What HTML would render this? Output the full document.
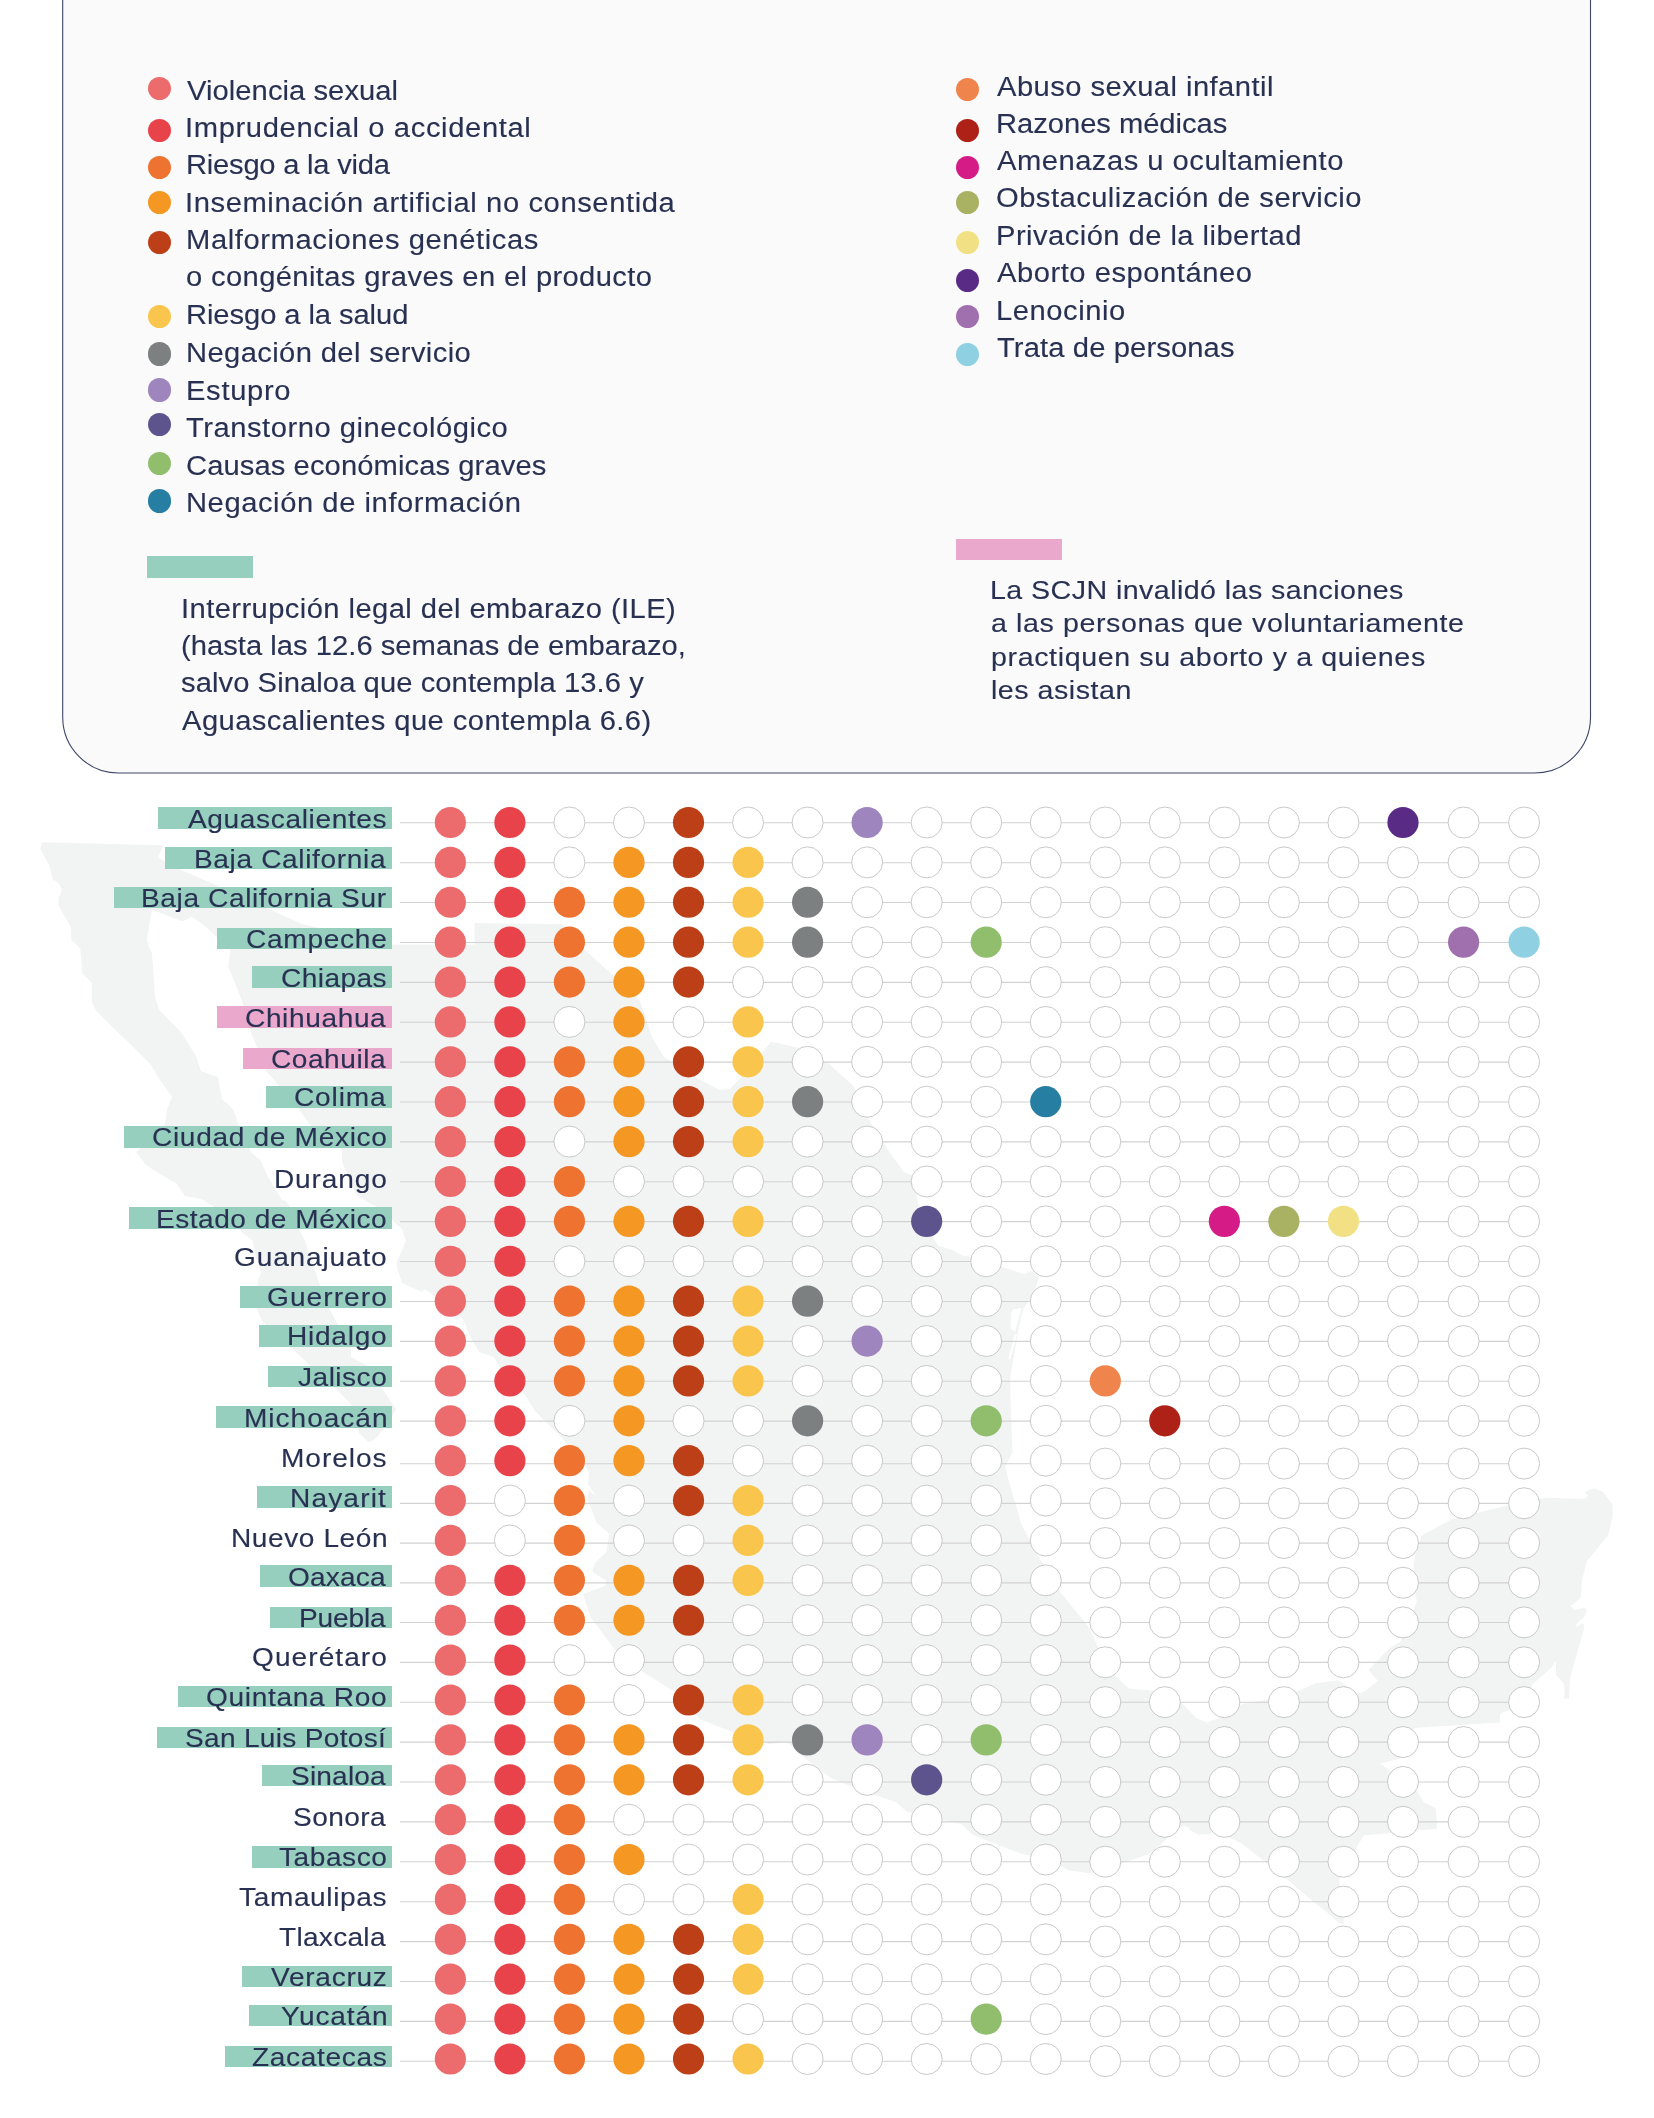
<!DOCTYPE html>
<html lang="es"><head><meta charset="utf-8"><title>Causales de aborto por estado</title>
<style>
html,body{margin:0;padding:0;background:#fff}
body{width:1654px;height:2118px;position:relative;overflow:hidden;font-family:"Liberation Sans",sans-serif;color:#283152}
.t{position:absolute;white-space:nowrap;line-height:30px;margin:0;padding:0;transform-origin:0 0;transform:scaleX(1.08);will-change:transform;-webkit-text-stroke:0.12px #283152}
.d{position:absolute;width:23.2px;height:23.2px;border-radius:50%}
.bar{position:absolute}
.hl{position:absolute;height:21.5px}
svg{position:absolute;left:0;top:0}
</style></head><body>
<svg width="1654" height="2118" viewBox="0 0 1654 2118">
<path d="M62.7,-5 V717.05 A56,56 0 0 0 118.7,773.05 H1534.5 A56,56 0 0 0 1590.5,717.05 V-5 Z" fill="#fafafb" stroke="#3f4769" stroke-width="1.1"/>
<polygon points="41.8,842.3 163.6,845.2 157.8,857.6 179.6,869.2 216,885 302,924 393,944.4 474.5,944.4 474.5,923 562,924 583,948 608,971 639,999 644,1012 652,1037 664,1057 697,1078 720,1090 730,1089 743,1075 771,1042 780,1043.5 799,1048 828,1063 853.5,1086 871,1123 888,1150 904,1172 911.6,1175 917.4,1198 918.3,1204 935,1241 938.6,1245.7 954,1250.5 962,1255.4 973.5,1257.3 1002.5,1267 1024,1274 1031.5,1271 1039,1276.7 1033.4,1295 1023.5,1308.6 1018,1332 1013.5,1359 1010.2,1378 1010.5,1400 1012.6,1452 1005.3,1467 1009,1481.6 1021.7,1525 1040.6,1560 1061,1593 1087.8,1625.8 1098,1646.3 1116.6,1677 1129,1688.5 1151.6,1690.5 1180.3,1701.8 1196.8,1718.3 1207,1722.4 1223.5,1716.2 1242,1703.9 1266.7,1699.8 1301.6,1689.5 1316,1683.3 1338.6,1680.2 1342.7,1683.3 1357.8,1693.7 1365,1691.3 1377.8,1680.7 1368.4,1670 1388.5,1649 1400.3,1641.8 1416.8,1601.6 1413.2,1578 1414.4,1559 1421.5,1535.5 1452.2,1519 1509,1505 1546.6,1497.8 1584.4,1499 1588,1495.4 1584.4,1492 1593.8,1488.3 1603.3,1492 1612.7,1505 1612.7,1516.7 1608,1535.5 1586.8,1561.5 1582,1580.4 1581,1597 1573.8,1604 1570.2,1606 1575,1610 1584.4,1607.5 1586.8,1610 1584.4,1617 1577.3,1623 1575,1627.6 1583.2,1623 1584.4,1627.6 1570.2,1677.2 1569,1698.4 1564.3,1698.4 1564.3,1684.3 1556,1674.8 1556,1660.7 1551.3,1667.7 1532.5,1684.3 1530.1,1690.2 1509,1710.2 1501.8,1712.6 1500,1715 1500,1722.5 1414.4,1728 1400.3,1758.6 1380.2,1763.4 1390.8,1771.6 1416.8,1790.5 1424,1802.3 1435.7,1808.2 1437,1828.7 1363.7,1835.4 1355.4,1849.5 1339,1880.2 1340,1885 1343.7,1918.7 1343.7,1924.8 1337.6,1921.8 1328.3,1913.5 1307.8,1897.1 1287.2,1879.6 1266.7,1863.2 1242,1843.7 1225.5,1835.4 1213.2,1830.3 1211.2,1834.4 1198.8,1834.4 1189.6,1830.3 1188.5,1827.2 1184.4,1826.2 1176.2,1829.3 1164,1841.6 1149.5,1854 1122.8,1863.2 1092,1873.5 1069.3,1870.4 1040.6,1857 1022.2,1854.1 1004.7,1847.6 972.1,1834.5 961.2,1823.7 939.4,1819.3 906.8,1811.7 896,1801.9 885,1798.6 852.4,1786.7 830.6,1778 802.3,1756.2 787,1742 769.7,1744.2 732.7,1732.2 700,1719.2 674,1691.5 643,1672 616,1651 591,1618 583,1594 604.5,1586 606.4,1581 592,1571.5 595,1563 606.4,1552 609.3,1534 596.7,1523 587,1498 589,1491 596,1496 588,1484.5 589,1473 587,1469 564,1440 535,1411 523,1392 512,1385 502,1371 494,1357 479,1352 469,1334 463,1319 438,1299 425,1289 422,1292 402,1283 396,1264 406,1241 402,1229 379,1208 371,1204 357,1196 348,1177 342,1161 342,1150 311,1126 303,1115 293,1101 274,1080 266,1071 251,1032 242,1001 234.7,982.4 228.2,966.4 230.4,950.4 217.3,937.4 202.8,924.3 192,917 182.5,921.4 152,909.8 147.7,934.5 147,938.8 148.4,946 152,953.3 155,997 159.3,1010 165,1016 181,1032 196,1056 201,1071 218,1077 222,1099 233,1109 239,1126 251,1152 261,1161 268,1177 282,1200 286,1201 291,1208 301,1233 305,1241 320,1285 324,1299 335,1319 351,1348 351,1357 366,1365 374,1377 386,1394 396,1409 386,1427 374,1440 368,1442 359,1433 351,1404 335,1388 316,1371 301,1357 281,1338 262,1321 256,1307 258,1280 261,1273 255,1254 253,1241 243,1233 216,1208 201,1199 185,1196 177,1184 158,1173 146,1165 136,1152 165,1124 167,1109 172,1097 160,1080 151,1065 127,1041 98,1013 95.4,1010 91.8,1001.2 91.8,983 82.4,973.6 80.2,948.3 71.5,940.3 70.8,927.2 58.5,905.4 58.5,898.2 62,889.5 59.2,883.7 52.6,879.3 49,864.8 40.3,848.9" fill="#f2f4f3"/>
<polygon points="1013.1,1309.6 1021.6,1307.8 1015,1331.8 1010.4,1327.9 1011.2,1312.4" fill="#fff"/>
<polygon points="1015,1333.7 1008.3,1358.9 1010.2,1359.8 1017,1334.7" fill="#fff"/>
<line x1="400" y1="822.80" x2="1524.10" y2="822.80" stroke="#d2d2d2" stroke-width="1.1"/>
<line x1="400" y1="862.69" x2="1524.10" y2="862.69" stroke="#d2d2d2" stroke-width="1.1"/>
<line x1="400" y1="902.57" x2="1524.10" y2="902.57" stroke="#d2d2d2" stroke-width="1.1"/>
<line x1="400" y1="942.46" x2="1524.10" y2="942.46" stroke="#d2d2d2" stroke-width="1.1"/>
<line x1="400" y1="982.35" x2="1524.10" y2="982.35" stroke="#d2d2d2" stroke-width="1.1"/>
<line x1="400" y1="1022.23" x2="1524.10" y2="1022.23" stroke="#d2d2d2" stroke-width="1.1"/>
<line x1="400" y1="1062.12" x2="1524.10" y2="1062.12" stroke="#d2d2d2" stroke-width="1.1"/>
<line x1="400" y1="1102.01" x2="1524.10" y2="1102.01" stroke="#d2d2d2" stroke-width="1.1"/>
<line x1="400" y1="1141.90" x2="1524.10" y2="1141.90" stroke="#d2d2d2" stroke-width="1.1"/>
<line x1="400" y1="1181.78" x2="1524.10" y2="1181.78" stroke="#d2d2d2" stroke-width="1.1"/>
<line x1="400" y1="1221.67" x2="1524.10" y2="1221.67" stroke="#d2d2d2" stroke-width="1.1"/>
<line x1="400" y1="1261.56" x2="1524.10" y2="1261.56" stroke="#d2d2d2" stroke-width="1.1"/>
<line x1="400" y1="1301.44" x2="1524.10" y2="1301.44" stroke="#d2d2d2" stroke-width="1.1"/>
<line x1="400" y1="1341.33" x2="1524.10" y2="1341.33" stroke="#d2d2d2" stroke-width="1.1"/>
<line x1="400" y1="1381.22" x2="1524.10" y2="1381.22" stroke="#d2d2d2" stroke-width="1.1"/>
<line x1="400" y1="1421.11" x2="1524.10" y2="1421.11" stroke="#d2d2d2" stroke-width="1.1"/>
<line x1="400" y1="1463.69" x2="1524.10" y2="1463.69" stroke="#d2d2d2" stroke-width="1.1"/>
<line x1="400" y1="1503.38" x2="1524.10" y2="1503.38" stroke="#d2d2d2" stroke-width="1.1"/>
<line x1="400" y1="1543.12" x2="1524.10" y2="1543.12" stroke="#d2d2d2" stroke-width="1.1"/>
<line x1="400" y1="1582.85" x2="1524.10" y2="1582.85" stroke="#d2d2d2" stroke-width="1.1"/>
<line x1="400" y1="1622.49" x2="1524.10" y2="1622.49" stroke="#d2d2d2" stroke-width="1.1"/>
<line x1="400" y1="1662.38" x2="1524.10" y2="1662.38" stroke="#d2d2d2" stroke-width="1.1"/>
<line x1="400" y1="1702.26" x2="1524.10" y2="1702.26" stroke="#d2d2d2" stroke-width="1.1"/>
<line x1="400" y1="1742.15" x2="1524.10" y2="1742.15" stroke="#d2d2d2" stroke-width="1.1"/>
<line x1="400" y1="1782.04" x2="1524.10" y2="1782.04" stroke="#d2d2d2" stroke-width="1.1"/>
<line x1="400" y1="1821.92" x2="1524.10" y2="1821.92" stroke="#d2d2d2" stroke-width="1.1"/>
<line x1="400" y1="1861.81" x2="1524.10" y2="1861.81" stroke="#d2d2d2" stroke-width="1.1"/>
<line x1="400" y1="1901.70" x2="1524.10" y2="1901.70" stroke="#d2d2d2" stroke-width="1.1"/>
<line x1="400" y1="1941.59" x2="1524.10" y2="1941.59" stroke="#d2d2d2" stroke-width="1.1"/>
<line x1="400" y1="1981.47" x2="1524.10" y2="1981.47" stroke="#d2d2d2" stroke-width="1.1"/>
<line x1="400" y1="2021.36" x2="1524.10" y2="2021.36" stroke="#d2d2d2" stroke-width="1.1"/>
<line x1="400" y1="2061.25" x2="1524.10" y2="2061.25" stroke="#d2d2d2" stroke-width="1.1"/>
<circle cx="450.35" cy="822.50" r="15.6" fill="#ec6b6c"/>
<circle cx="509.89" cy="822.50" r="15.6" fill="#e8434a"/>
<circle cx="569.43" cy="822.50" r="15.5" fill="#fff" stroke="#bbbbbb" stroke-width="0.8"/>
<circle cx="628.97" cy="822.50" r="15.5" fill="#fff" stroke="#bbbbbb" stroke-width="0.8"/>
<circle cx="688.51" cy="822.50" r="15.6" fill="#bc3f18"/>
<circle cx="748.05" cy="822.50" r="15.5" fill="#fff" stroke="#bbbbbb" stroke-width="0.8"/>
<circle cx="807.59" cy="822.50" r="15.5" fill="#fff" stroke="#bbbbbb" stroke-width="0.8"/>
<circle cx="867.13" cy="822.50" r="15.6" fill="#9e85be"/>
<circle cx="926.67" cy="822.50" r="15.5" fill="#fff" stroke="#bbbbbb" stroke-width="0.8"/>
<circle cx="986.21" cy="822.50" r="15.5" fill="#fff" stroke="#bbbbbb" stroke-width="0.8"/>
<circle cx="1045.75" cy="822.50" r="15.5" fill="#fff" stroke="#bbbbbb" stroke-width="0.8"/>
<circle cx="1105.29" cy="822.50" r="15.5" fill="#fff" stroke="#bbbbbb" stroke-width="0.8"/>
<circle cx="1164.83" cy="822.50" r="15.5" fill="#fff" stroke="#bbbbbb" stroke-width="0.8"/>
<circle cx="1224.37" cy="822.50" r="15.5" fill="#fff" stroke="#bbbbbb" stroke-width="0.8"/>
<circle cx="1283.91" cy="822.50" r="15.5" fill="#fff" stroke="#bbbbbb" stroke-width="0.8"/>
<circle cx="1343.45" cy="822.50" r="15.5" fill="#fff" stroke="#bbbbbb" stroke-width="0.8"/>
<circle cx="1402.99" cy="822.50" r="15.6" fill="#5a2b85"/>
<circle cx="1463.60" cy="822.50" r="15.5" fill="#fff" stroke="#bbbbbb" stroke-width="0.8"/>
<circle cx="1524.10" cy="822.50" r="15.5" fill="#fff" stroke="#bbbbbb" stroke-width="0.8"/>
<circle cx="450.35" cy="862.39" r="15.6" fill="#ec6b6c"/>
<circle cx="509.89" cy="862.39" r="15.6" fill="#e8434a"/>
<circle cx="569.43" cy="862.39" r="15.5" fill="#fff" stroke="#bbbbbb" stroke-width="0.8"/>
<circle cx="628.97" cy="862.39" r="15.6" fill="#f49723"/>
<circle cx="688.51" cy="862.39" r="15.6" fill="#bc3f18"/>
<circle cx="748.05" cy="862.39" r="15.6" fill="#f9c54d"/>
<circle cx="807.59" cy="862.39" r="15.5" fill="#fff" stroke="#bbbbbb" stroke-width="0.8"/>
<circle cx="867.13" cy="862.39" r="15.5" fill="#fff" stroke="#bbbbbb" stroke-width="0.8"/>
<circle cx="926.67" cy="862.39" r="15.5" fill="#fff" stroke="#bbbbbb" stroke-width="0.8"/>
<circle cx="986.21" cy="862.39" r="15.5" fill="#fff" stroke="#bbbbbb" stroke-width="0.8"/>
<circle cx="1045.75" cy="862.39" r="15.5" fill="#fff" stroke="#bbbbbb" stroke-width="0.8"/>
<circle cx="1105.29" cy="862.39" r="15.5" fill="#fff" stroke="#bbbbbb" stroke-width="0.8"/>
<circle cx="1164.83" cy="862.39" r="15.5" fill="#fff" stroke="#bbbbbb" stroke-width="0.8"/>
<circle cx="1224.37" cy="862.39" r="15.5" fill="#fff" stroke="#bbbbbb" stroke-width="0.8"/>
<circle cx="1283.91" cy="862.39" r="15.5" fill="#fff" stroke="#bbbbbb" stroke-width="0.8"/>
<circle cx="1343.45" cy="862.39" r="15.5" fill="#fff" stroke="#bbbbbb" stroke-width="0.8"/>
<circle cx="1402.99" cy="862.39" r="15.5" fill="#fff" stroke="#bbbbbb" stroke-width="0.8"/>
<circle cx="1463.60" cy="862.39" r="15.5" fill="#fff" stroke="#bbbbbb" stroke-width="0.8"/>
<circle cx="1524.10" cy="862.39" r="15.5" fill="#fff" stroke="#bbbbbb" stroke-width="0.8"/>
<circle cx="450.35" cy="902.27" r="15.6" fill="#ec6b6c"/>
<circle cx="509.89" cy="902.27" r="15.6" fill="#e8434a"/>
<circle cx="569.43" cy="902.27" r="15.6" fill="#ee7230"/>
<circle cx="628.97" cy="902.27" r="15.6" fill="#f49723"/>
<circle cx="688.51" cy="902.27" r="15.6" fill="#bc3f18"/>
<circle cx="748.05" cy="902.27" r="15.6" fill="#f9c54d"/>
<circle cx="807.59" cy="902.27" r="15.6" fill="#7c8081"/>
<circle cx="867.13" cy="902.27" r="15.5" fill="#fff" stroke="#bbbbbb" stroke-width="0.8"/>
<circle cx="926.67" cy="902.27" r="15.5" fill="#fff" stroke="#bbbbbb" stroke-width="0.8"/>
<circle cx="986.21" cy="902.27" r="15.5" fill="#fff" stroke="#bbbbbb" stroke-width="0.8"/>
<circle cx="1045.75" cy="902.27" r="15.5" fill="#fff" stroke="#bbbbbb" stroke-width="0.8"/>
<circle cx="1105.29" cy="902.27" r="15.5" fill="#fff" stroke="#bbbbbb" stroke-width="0.8"/>
<circle cx="1164.83" cy="902.27" r="15.5" fill="#fff" stroke="#bbbbbb" stroke-width="0.8"/>
<circle cx="1224.37" cy="902.27" r="15.5" fill="#fff" stroke="#bbbbbb" stroke-width="0.8"/>
<circle cx="1283.91" cy="902.27" r="15.5" fill="#fff" stroke="#bbbbbb" stroke-width="0.8"/>
<circle cx="1343.45" cy="902.27" r="15.5" fill="#fff" stroke="#bbbbbb" stroke-width="0.8"/>
<circle cx="1402.99" cy="902.27" r="15.5" fill="#fff" stroke="#bbbbbb" stroke-width="0.8"/>
<circle cx="1463.60" cy="902.27" r="15.5" fill="#fff" stroke="#bbbbbb" stroke-width="0.8"/>
<circle cx="1524.10" cy="902.27" r="15.5" fill="#fff" stroke="#bbbbbb" stroke-width="0.8"/>
<circle cx="450.35" cy="942.16" r="15.6" fill="#ec6b6c"/>
<circle cx="509.89" cy="942.16" r="15.6" fill="#e8434a"/>
<circle cx="569.43" cy="942.16" r="15.6" fill="#ee7230"/>
<circle cx="628.97" cy="942.16" r="15.6" fill="#f49723"/>
<circle cx="688.51" cy="942.16" r="15.6" fill="#bc3f18"/>
<circle cx="748.05" cy="942.16" r="15.6" fill="#f9c54d"/>
<circle cx="807.59" cy="942.16" r="15.6" fill="#7c8081"/>
<circle cx="867.13" cy="942.16" r="15.5" fill="#fff" stroke="#bbbbbb" stroke-width="0.8"/>
<circle cx="926.67" cy="942.16" r="15.5" fill="#fff" stroke="#bbbbbb" stroke-width="0.8"/>
<circle cx="986.21" cy="942.16" r="15.6" fill="#90be6d"/>
<circle cx="1045.75" cy="942.16" r="15.5" fill="#fff" stroke="#bbbbbb" stroke-width="0.8"/>
<circle cx="1105.29" cy="942.16" r="15.5" fill="#fff" stroke="#bbbbbb" stroke-width="0.8"/>
<circle cx="1164.83" cy="942.16" r="15.5" fill="#fff" stroke="#bbbbbb" stroke-width="0.8"/>
<circle cx="1224.37" cy="942.16" r="15.5" fill="#fff" stroke="#bbbbbb" stroke-width="0.8"/>
<circle cx="1283.91" cy="942.16" r="15.5" fill="#fff" stroke="#bbbbbb" stroke-width="0.8"/>
<circle cx="1343.45" cy="942.16" r="15.5" fill="#fff" stroke="#bbbbbb" stroke-width="0.8"/>
<circle cx="1402.99" cy="942.16" r="15.5" fill="#fff" stroke="#bbbbbb" stroke-width="0.8"/>
<circle cx="1463.60" cy="942.16" r="15.6" fill="#a06fae"/>
<circle cx="1524.10" cy="942.16" r="15.6" fill="#8fd1e2"/>
<circle cx="450.35" cy="982.05" r="15.6" fill="#ec6b6c"/>
<circle cx="509.89" cy="982.05" r="15.6" fill="#e8434a"/>
<circle cx="569.43" cy="982.05" r="15.6" fill="#ee7230"/>
<circle cx="628.97" cy="982.05" r="15.6" fill="#f49723"/>
<circle cx="688.51" cy="982.05" r="15.6" fill="#bc3f18"/>
<circle cx="748.05" cy="982.05" r="15.5" fill="#fff" stroke="#bbbbbb" stroke-width="0.8"/>
<circle cx="807.59" cy="982.05" r="15.5" fill="#fff" stroke="#bbbbbb" stroke-width="0.8"/>
<circle cx="867.13" cy="982.05" r="15.5" fill="#fff" stroke="#bbbbbb" stroke-width="0.8"/>
<circle cx="926.67" cy="982.05" r="15.5" fill="#fff" stroke="#bbbbbb" stroke-width="0.8"/>
<circle cx="986.21" cy="982.05" r="15.5" fill="#fff" stroke="#bbbbbb" stroke-width="0.8"/>
<circle cx="1045.75" cy="982.05" r="15.5" fill="#fff" stroke="#bbbbbb" stroke-width="0.8"/>
<circle cx="1105.29" cy="982.05" r="15.5" fill="#fff" stroke="#bbbbbb" stroke-width="0.8"/>
<circle cx="1164.83" cy="982.05" r="15.5" fill="#fff" stroke="#bbbbbb" stroke-width="0.8"/>
<circle cx="1224.37" cy="982.05" r="15.5" fill="#fff" stroke="#bbbbbb" stroke-width="0.8"/>
<circle cx="1283.91" cy="982.05" r="15.5" fill="#fff" stroke="#bbbbbb" stroke-width="0.8"/>
<circle cx="1343.45" cy="982.05" r="15.5" fill="#fff" stroke="#bbbbbb" stroke-width="0.8"/>
<circle cx="1402.99" cy="982.05" r="15.5" fill="#fff" stroke="#bbbbbb" stroke-width="0.8"/>
<circle cx="1463.60" cy="982.05" r="15.5" fill="#fff" stroke="#bbbbbb" stroke-width="0.8"/>
<circle cx="1524.10" cy="982.05" r="15.5" fill="#fff" stroke="#bbbbbb" stroke-width="0.8"/>
<circle cx="450.35" cy="1021.93" r="15.6" fill="#ec6b6c"/>
<circle cx="509.89" cy="1021.93" r="15.6" fill="#e8434a"/>
<circle cx="569.43" cy="1021.93" r="15.5" fill="#fff" stroke="#bbbbbb" stroke-width="0.8"/>
<circle cx="628.97" cy="1021.93" r="15.6" fill="#f49723"/>
<circle cx="688.51" cy="1021.93" r="15.5" fill="#fff" stroke="#bbbbbb" stroke-width="0.8"/>
<circle cx="748.05" cy="1021.93" r="15.6" fill="#f9c54d"/>
<circle cx="807.59" cy="1021.93" r="15.5" fill="#fff" stroke="#bbbbbb" stroke-width="0.8"/>
<circle cx="867.13" cy="1021.93" r="15.5" fill="#fff" stroke="#bbbbbb" stroke-width="0.8"/>
<circle cx="926.67" cy="1021.93" r="15.5" fill="#fff" stroke="#bbbbbb" stroke-width="0.8"/>
<circle cx="986.21" cy="1021.93" r="15.5" fill="#fff" stroke="#bbbbbb" stroke-width="0.8"/>
<circle cx="1045.75" cy="1021.93" r="15.5" fill="#fff" stroke="#bbbbbb" stroke-width="0.8"/>
<circle cx="1105.29" cy="1021.93" r="15.5" fill="#fff" stroke="#bbbbbb" stroke-width="0.8"/>
<circle cx="1164.83" cy="1021.93" r="15.5" fill="#fff" stroke="#bbbbbb" stroke-width="0.8"/>
<circle cx="1224.37" cy="1021.93" r="15.5" fill="#fff" stroke="#bbbbbb" stroke-width="0.8"/>
<circle cx="1283.91" cy="1021.93" r="15.5" fill="#fff" stroke="#bbbbbb" stroke-width="0.8"/>
<circle cx="1343.45" cy="1021.93" r="15.5" fill="#fff" stroke="#bbbbbb" stroke-width="0.8"/>
<circle cx="1402.99" cy="1021.93" r="15.5" fill="#fff" stroke="#bbbbbb" stroke-width="0.8"/>
<circle cx="1463.60" cy="1021.93" r="15.5" fill="#fff" stroke="#bbbbbb" stroke-width="0.8"/>
<circle cx="1524.10" cy="1021.93" r="15.5" fill="#fff" stroke="#bbbbbb" stroke-width="0.8"/>
<circle cx="450.35" cy="1061.82" r="15.6" fill="#ec6b6c"/>
<circle cx="509.89" cy="1061.82" r="15.6" fill="#e8434a"/>
<circle cx="569.43" cy="1061.82" r="15.6" fill="#ee7230"/>
<circle cx="628.97" cy="1061.82" r="15.6" fill="#f49723"/>
<circle cx="688.51" cy="1061.82" r="15.6" fill="#bc3f18"/>
<circle cx="748.05" cy="1061.82" r="15.6" fill="#f9c54d"/>
<circle cx="807.59" cy="1061.82" r="15.5" fill="#fff" stroke="#bbbbbb" stroke-width="0.8"/>
<circle cx="867.13" cy="1061.82" r="15.5" fill="#fff" stroke="#bbbbbb" stroke-width="0.8"/>
<circle cx="926.67" cy="1061.82" r="15.5" fill="#fff" stroke="#bbbbbb" stroke-width="0.8"/>
<circle cx="986.21" cy="1061.82" r="15.5" fill="#fff" stroke="#bbbbbb" stroke-width="0.8"/>
<circle cx="1045.75" cy="1061.82" r="15.5" fill="#fff" stroke="#bbbbbb" stroke-width="0.8"/>
<circle cx="1105.29" cy="1061.82" r="15.5" fill="#fff" stroke="#bbbbbb" stroke-width="0.8"/>
<circle cx="1164.83" cy="1061.82" r="15.5" fill="#fff" stroke="#bbbbbb" stroke-width="0.8"/>
<circle cx="1224.37" cy="1061.82" r="15.5" fill="#fff" stroke="#bbbbbb" stroke-width="0.8"/>
<circle cx="1283.91" cy="1061.82" r="15.5" fill="#fff" stroke="#bbbbbb" stroke-width="0.8"/>
<circle cx="1343.45" cy="1061.82" r="15.5" fill="#fff" stroke="#bbbbbb" stroke-width="0.8"/>
<circle cx="1402.99" cy="1061.82" r="15.5" fill="#fff" stroke="#bbbbbb" stroke-width="0.8"/>
<circle cx="1463.60" cy="1061.82" r="15.5" fill="#fff" stroke="#bbbbbb" stroke-width="0.8"/>
<circle cx="1524.10" cy="1061.82" r="15.5" fill="#fff" stroke="#bbbbbb" stroke-width="0.8"/>
<circle cx="450.35" cy="1101.71" r="15.6" fill="#ec6b6c"/>
<circle cx="509.89" cy="1101.71" r="15.6" fill="#e8434a"/>
<circle cx="569.43" cy="1101.71" r="15.6" fill="#ee7230"/>
<circle cx="628.97" cy="1101.71" r="15.6" fill="#f49723"/>
<circle cx="688.51" cy="1101.71" r="15.6" fill="#bc3f18"/>
<circle cx="748.05" cy="1101.71" r="15.6" fill="#f9c54d"/>
<circle cx="807.59" cy="1101.71" r="15.6" fill="#7c8081"/>
<circle cx="867.13" cy="1101.71" r="15.5" fill="#fff" stroke="#bbbbbb" stroke-width="0.8"/>
<circle cx="926.67" cy="1101.71" r="15.5" fill="#fff" stroke="#bbbbbb" stroke-width="0.8"/>
<circle cx="986.21" cy="1101.71" r="15.5" fill="#fff" stroke="#bbbbbb" stroke-width="0.8"/>
<circle cx="1045.75" cy="1101.71" r="15.6" fill="#267fa3"/>
<circle cx="1105.29" cy="1101.71" r="15.5" fill="#fff" stroke="#bbbbbb" stroke-width="0.8"/>
<circle cx="1164.83" cy="1101.71" r="15.5" fill="#fff" stroke="#bbbbbb" stroke-width="0.8"/>
<circle cx="1224.37" cy="1101.71" r="15.5" fill="#fff" stroke="#bbbbbb" stroke-width="0.8"/>
<circle cx="1283.91" cy="1101.71" r="15.5" fill="#fff" stroke="#bbbbbb" stroke-width="0.8"/>
<circle cx="1343.45" cy="1101.71" r="15.5" fill="#fff" stroke="#bbbbbb" stroke-width="0.8"/>
<circle cx="1402.99" cy="1101.71" r="15.5" fill="#fff" stroke="#bbbbbb" stroke-width="0.8"/>
<circle cx="1463.60" cy="1101.71" r="15.5" fill="#fff" stroke="#bbbbbb" stroke-width="0.8"/>
<circle cx="1524.10" cy="1101.71" r="15.5" fill="#fff" stroke="#bbbbbb" stroke-width="0.8"/>
<circle cx="450.35" cy="1141.60" r="15.6" fill="#ec6b6c"/>
<circle cx="509.89" cy="1141.60" r="15.6" fill="#e8434a"/>
<circle cx="569.43" cy="1141.60" r="15.5" fill="#fff" stroke="#bbbbbb" stroke-width="0.8"/>
<circle cx="628.97" cy="1141.60" r="15.6" fill="#f49723"/>
<circle cx="688.51" cy="1141.60" r="15.6" fill="#bc3f18"/>
<circle cx="748.05" cy="1141.60" r="15.6" fill="#f9c54d"/>
<circle cx="807.59" cy="1141.60" r="15.5" fill="#fff" stroke="#bbbbbb" stroke-width="0.8"/>
<circle cx="867.13" cy="1141.60" r="15.5" fill="#fff" stroke="#bbbbbb" stroke-width="0.8"/>
<circle cx="926.67" cy="1141.60" r="15.5" fill="#fff" stroke="#bbbbbb" stroke-width="0.8"/>
<circle cx="986.21" cy="1141.60" r="15.5" fill="#fff" stroke="#bbbbbb" stroke-width="0.8"/>
<circle cx="1045.75" cy="1141.60" r="15.5" fill="#fff" stroke="#bbbbbb" stroke-width="0.8"/>
<circle cx="1105.29" cy="1141.60" r="15.5" fill="#fff" stroke="#bbbbbb" stroke-width="0.8"/>
<circle cx="1164.83" cy="1141.60" r="15.5" fill="#fff" stroke="#bbbbbb" stroke-width="0.8"/>
<circle cx="1224.37" cy="1141.60" r="15.5" fill="#fff" stroke="#bbbbbb" stroke-width="0.8"/>
<circle cx="1283.91" cy="1141.60" r="15.5" fill="#fff" stroke="#bbbbbb" stroke-width="0.8"/>
<circle cx="1343.45" cy="1141.60" r="15.5" fill="#fff" stroke="#bbbbbb" stroke-width="0.8"/>
<circle cx="1402.99" cy="1141.60" r="15.5" fill="#fff" stroke="#bbbbbb" stroke-width="0.8"/>
<circle cx="1463.60" cy="1141.60" r="15.5" fill="#fff" stroke="#bbbbbb" stroke-width="0.8"/>
<circle cx="1524.10" cy="1141.60" r="15.5" fill="#fff" stroke="#bbbbbb" stroke-width="0.8"/>
<circle cx="450.35" cy="1181.48" r="15.6" fill="#ec6b6c"/>
<circle cx="509.89" cy="1181.48" r="15.6" fill="#e8434a"/>
<circle cx="569.43" cy="1181.48" r="15.6" fill="#ee7230"/>
<circle cx="628.97" cy="1181.48" r="15.5" fill="#fff" stroke="#bbbbbb" stroke-width="0.8"/>
<circle cx="688.51" cy="1181.48" r="15.5" fill="#fff" stroke="#bbbbbb" stroke-width="0.8"/>
<circle cx="748.05" cy="1181.48" r="15.5" fill="#fff" stroke="#bbbbbb" stroke-width="0.8"/>
<circle cx="807.59" cy="1181.48" r="15.5" fill="#fff" stroke="#bbbbbb" stroke-width="0.8"/>
<circle cx="867.13" cy="1181.48" r="15.5" fill="#fff" stroke="#bbbbbb" stroke-width="0.8"/>
<circle cx="926.67" cy="1181.48" r="15.5" fill="#fff" stroke="#bbbbbb" stroke-width="0.8"/>
<circle cx="986.21" cy="1181.48" r="15.5" fill="#fff" stroke="#bbbbbb" stroke-width="0.8"/>
<circle cx="1045.75" cy="1181.48" r="15.5" fill="#fff" stroke="#bbbbbb" stroke-width="0.8"/>
<circle cx="1105.29" cy="1181.48" r="15.5" fill="#fff" stroke="#bbbbbb" stroke-width="0.8"/>
<circle cx="1164.83" cy="1181.48" r="15.5" fill="#fff" stroke="#bbbbbb" stroke-width="0.8"/>
<circle cx="1224.37" cy="1181.48" r="15.5" fill="#fff" stroke="#bbbbbb" stroke-width="0.8"/>
<circle cx="1283.91" cy="1181.48" r="15.5" fill="#fff" stroke="#bbbbbb" stroke-width="0.8"/>
<circle cx="1343.45" cy="1181.48" r="15.5" fill="#fff" stroke="#bbbbbb" stroke-width="0.8"/>
<circle cx="1402.99" cy="1181.48" r="15.5" fill="#fff" stroke="#bbbbbb" stroke-width="0.8"/>
<circle cx="1463.60" cy="1181.48" r="15.5" fill="#fff" stroke="#bbbbbb" stroke-width="0.8"/>
<circle cx="1524.10" cy="1181.48" r="15.5" fill="#fff" stroke="#bbbbbb" stroke-width="0.8"/>
<circle cx="450.35" cy="1221.37" r="15.6" fill="#ec6b6c"/>
<circle cx="509.89" cy="1221.37" r="15.6" fill="#e8434a"/>
<circle cx="569.43" cy="1221.37" r="15.6" fill="#ee7230"/>
<circle cx="628.97" cy="1221.37" r="15.6" fill="#f49723"/>
<circle cx="688.51" cy="1221.37" r="15.6" fill="#bc3f18"/>
<circle cx="748.05" cy="1221.37" r="15.6" fill="#f9c54d"/>
<circle cx="807.59" cy="1221.37" r="15.5" fill="#fff" stroke="#bbbbbb" stroke-width="0.8"/>
<circle cx="867.13" cy="1221.37" r="15.5" fill="#fff" stroke="#bbbbbb" stroke-width="0.8"/>
<circle cx="926.67" cy="1221.37" r="15.6" fill="#5d548e"/>
<circle cx="986.21" cy="1221.37" r="15.5" fill="#fff" stroke="#bbbbbb" stroke-width="0.8"/>
<circle cx="1045.75" cy="1221.37" r="15.5" fill="#fff" stroke="#bbbbbb" stroke-width="0.8"/>
<circle cx="1105.29" cy="1221.37" r="15.5" fill="#fff" stroke="#bbbbbb" stroke-width="0.8"/>
<circle cx="1164.83" cy="1221.37" r="15.5" fill="#fff" stroke="#bbbbbb" stroke-width="0.8"/>
<circle cx="1224.37" cy="1221.37" r="15.6" fill="#d51b85"/>
<circle cx="1283.91" cy="1221.37" r="15.6" fill="#a9b163"/>
<circle cx="1343.45" cy="1221.37" r="15.6" fill="#f2e184"/>
<circle cx="1402.99" cy="1221.37" r="15.5" fill="#fff" stroke="#bbbbbb" stroke-width="0.8"/>
<circle cx="1463.60" cy="1221.37" r="15.5" fill="#fff" stroke="#bbbbbb" stroke-width="0.8"/>
<circle cx="1524.10" cy="1221.37" r="15.5" fill="#fff" stroke="#bbbbbb" stroke-width="0.8"/>
<circle cx="450.35" cy="1261.26" r="15.6" fill="#ec6b6c"/>
<circle cx="509.89" cy="1261.26" r="15.6" fill="#e8434a"/>
<circle cx="569.43" cy="1261.26" r="15.5" fill="#fff" stroke="#bbbbbb" stroke-width="0.8"/>
<circle cx="628.97" cy="1261.26" r="15.5" fill="#fff" stroke="#bbbbbb" stroke-width="0.8"/>
<circle cx="688.51" cy="1261.26" r="15.5" fill="#fff" stroke="#bbbbbb" stroke-width="0.8"/>
<circle cx="748.05" cy="1261.26" r="15.5" fill="#fff" stroke="#bbbbbb" stroke-width="0.8"/>
<circle cx="807.59" cy="1261.26" r="15.5" fill="#fff" stroke="#bbbbbb" stroke-width="0.8"/>
<circle cx="867.13" cy="1261.26" r="15.5" fill="#fff" stroke="#bbbbbb" stroke-width="0.8"/>
<circle cx="926.67" cy="1261.26" r="15.5" fill="#fff" stroke="#bbbbbb" stroke-width="0.8"/>
<circle cx="986.21" cy="1261.26" r="15.5" fill="#fff" stroke="#bbbbbb" stroke-width="0.8"/>
<circle cx="1045.75" cy="1261.26" r="15.5" fill="#fff" stroke="#bbbbbb" stroke-width="0.8"/>
<circle cx="1105.29" cy="1261.26" r="15.5" fill="#fff" stroke="#bbbbbb" stroke-width="0.8"/>
<circle cx="1164.83" cy="1261.26" r="15.5" fill="#fff" stroke="#bbbbbb" stroke-width="0.8"/>
<circle cx="1224.37" cy="1261.26" r="15.5" fill="#fff" stroke="#bbbbbb" stroke-width="0.8"/>
<circle cx="1283.91" cy="1261.26" r="15.5" fill="#fff" stroke="#bbbbbb" stroke-width="0.8"/>
<circle cx="1343.45" cy="1261.26" r="15.5" fill="#fff" stroke="#bbbbbb" stroke-width="0.8"/>
<circle cx="1402.99" cy="1261.26" r="15.5" fill="#fff" stroke="#bbbbbb" stroke-width="0.8"/>
<circle cx="1463.60" cy="1261.26" r="15.5" fill="#fff" stroke="#bbbbbb" stroke-width="0.8"/>
<circle cx="1524.10" cy="1261.26" r="15.5" fill="#fff" stroke="#bbbbbb" stroke-width="0.8"/>
<circle cx="450.35" cy="1301.14" r="15.6" fill="#ec6b6c"/>
<circle cx="509.89" cy="1301.14" r="15.6" fill="#e8434a"/>
<circle cx="569.43" cy="1301.14" r="15.6" fill="#ee7230"/>
<circle cx="628.97" cy="1301.14" r="15.6" fill="#f49723"/>
<circle cx="688.51" cy="1301.14" r="15.6" fill="#bc3f18"/>
<circle cx="748.05" cy="1301.14" r="15.6" fill="#f9c54d"/>
<circle cx="807.59" cy="1301.14" r="15.6" fill="#7c8081"/>
<circle cx="867.13" cy="1301.14" r="15.5" fill="#fff" stroke="#bbbbbb" stroke-width="0.8"/>
<circle cx="926.67" cy="1301.14" r="15.5" fill="#fff" stroke="#bbbbbb" stroke-width="0.8"/>
<circle cx="986.21" cy="1301.14" r="15.5" fill="#fff" stroke="#bbbbbb" stroke-width="0.8"/>
<circle cx="1045.75" cy="1301.14" r="15.5" fill="#fff" stroke="#bbbbbb" stroke-width="0.8"/>
<circle cx="1105.29" cy="1301.14" r="15.5" fill="#fff" stroke="#bbbbbb" stroke-width="0.8"/>
<circle cx="1164.83" cy="1301.14" r="15.5" fill="#fff" stroke="#bbbbbb" stroke-width="0.8"/>
<circle cx="1224.37" cy="1301.14" r="15.5" fill="#fff" stroke="#bbbbbb" stroke-width="0.8"/>
<circle cx="1283.91" cy="1301.14" r="15.5" fill="#fff" stroke="#bbbbbb" stroke-width="0.8"/>
<circle cx="1343.45" cy="1301.14" r="15.5" fill="#fff" stroke="#bbbbbb" stroke-width="0.8"/>
<circle cx="1402.99" cy="1301.14" r="15.5" fill="#fff" stroke="#bbbbbb" stroke-width="0.8"/>
<circle cx="1463.60" cy="1301.14" r="15.5" fill="#fff" stroke="#bbbbbb" stroke-width="0.8"/>
<circle cx="1524.10" cy="1301.14" r="15.5" fill="#fff" stroke="#bbbbbb" stroke-width="0.8"/>
<circle cx="450.35" cy="1341.03" r="15.6" fill="#ec6b6c"/>
<circle cx="509.89" cy="1341.03" r="15.6" fill="#e8434a"/>
<circle cx="569.43" cy="1341.03" r="15.6" fill="#ee7230"/>
<circle cx="628.97" cy="1341.03" r="15.6" fill="#f49723"/>
<circle cx="688.51" cy="1341.03" r="15.6" fill="#bc3f18"/>
<circle cx="748.05" cy="1341.03" r="15.6" fill="#f9c54d"/>
<circle cx="807.59" cy="1341.03" r="15.5" fill="#fff" stroke="#bbbbbb" stroke-width="0.8"/>
<circle cx="867.13" cy="1341.03" r="15.6" fill="#9e85be"/>
<circle cx="926.67" cy="1341.03" r="15.5" fill="#fff" stroke="#bbbbbb" stroke-width="0.8"/>
<circle cx="986.21" cy="1341.03" r="15.5" fill="#fff" stroke="#bbbbbb" stroke-width="0.8"/>
<circle cx="1045.75" cy="1341.03" r="15.5" fill="#fff" stroke="#bbbbbb" stroke-width="0.8"/>
<circle cx="1105.29" cy="1341.03" r="15.5" fill="#fff" stroke="#bbbbbb" stroke-width="0.8"/>
<circle cx="1164.83" cy="1341.03" r="15.5" fill="#fff" stroke="#bbbbbb" stroke-width="0.8"/>
<circle cx="1224.37" cy="1341.03" r="15.5" fill="#fff" stroke="#bbbbbb" stroke-width="0.8"/>
<circle cx="1283.91" cy="1341.03" r="15.5" fill="#fff" stroke="#bbbbbb" stroke-width="0.8"/>
<circle cx="1343.45" cy="1341.03" r="15.5" fill="#fff" stroke="#bbbbbb" stroke-width="0.8"/>
<circle cx="1402.99" cy="1341.03" r="15.5" fill="#fff" stroke="#bbbbbb" stroke-width="0.8"/>
<circle cx="1463.60" cy="1341.03" r="15.5" fill="#fff" stroke="#bbbbbb" stroke-width="0.8"/>
<circle cx="1524.10" cy="1341.03" r="15.5" fill="#fff" stroke="#bbbbbb" stroke-width="0.8"/>
<circle cx="450.35" cy="1380.92" r="15.6" fill="#ec6b6c"/>
<circle cx="509.89" cy="1380.92" r="15.6" fill="#e8434a"/>
<circle cx="569.43" cy="1380.92" r="15.6" fill="#ee7230"/>
<circle cx="628.97" cy="1380.92" r="15.6" fill="#f49723"/>
<circle cx="688.51" cy="1380.92" r="15.6" fill="#bc3f18"/>
<circle cx="748.05" cy="1380.92" r="15.6" fill="#f9c54d"/>
<circle cx="807.59" cy="1380.92" r="15.5" fill="#fff" stroke="#bbbbbb" stroke-width="0.8"/>
<circle cx="867.13" cy="1380.92" r="15.5" fill="#fff" stroke="#bbbbbb" stroke-width="0.8"/>
<circle cx="926.67" cy="1380.92" r="15.5" fill="#fff" stroke="#bbbbbb" stroke-width="0.8"/>
<circle cx="986.21" cy="1380.92" r="15.5" fill="#fff" stroke="#bbbbbb" stroke-width="0.8"/>
<circle cx="1045.75" cy="1380.92" r="15.5" fill="#fff" stroke="#bbbbbb" stroke-width="0.8"/>
<circle cx="1105.29" cy="1380.92" r="15.6" fill="#ef844c"/>
<circle cx="1164.83" cy="1380.92" r="15.5" fill="#fff" stroke="#bbbbbb" stroke-width="0.8"/>
<circle cx="1224.37" cy="1380.92" r="15.5" fill="#fff" stroke="#bbbbbb" stroke-width="0.8"/>
<circle cx="1283.91" cy="1380.92" r="15.5" fill="#fff" stroke="#bbbbbb" stroke-width="0.8"/>
<circle cx="1343.45" cy="1380.92" r="15.5" fill="#fff" stroke="#bbbbbb" stroke-width="0.8"/>
<circle cx="1402.99" cy="1380.92" r="15.5" fill="#fff" stroke="#bbbbbb" stroke-width="0.8"/>
<circle cx="1463.60" cy="1380.92" r="15.5" fill="#fff" stroke="#bbbbbb" stroke-width="0.8"/>
<circle cx="1524.10" cy="1380.92" r="15.5" fill="#fff" stroke="#bbbbbb" stroke-width="0.8"/>
<circle cx="450.35" cy="1420.81" r="15.6" fill="#ec6b6c"/>
<circle cx="509.89" cy="1420.81" r="15.6" fill="#e8434a"/>
<circle cx="569.43" cy="1420.81" r="15.5" fill="#fff" stroke="#bbbbbb" stroke-width="0.8"/>
<circle cx="628.97" cy="1420.81" r="15.6" fill="#f49723"/>
<circle cx="688.51" cy="1420.81" r="15.5" fill="#fff" stroke="#bbbbbb" stroke-width="0.8"/>
<circle cx="748.05" cy="1420.81" r="15.5" fill="#fff" stroke="#bbbbbb" stroke-width="0.8"/>
<circle cx="807.59" cy="1420.81" r="15.6" fill="#7c8081"/>
<circle cx="867.13" cy="1420.81" r="15.5" fill="#fff" stroke="#bbbbbb" stroke-width="0.8"/>
<circle cx="926.67" cy="1420.81" r="15.5" fill="#fff" stroke="#bbbbbb" stroke-width="0.8"/>
<circle cx="986.21" cy="1420.81" r="15.6" fill="#90be6d"/>
<circle cx="1045.75" cy="1420.81" r="15.5" fill="#fff" stroke="#bbbbbb" stroke-width="0.8"/>
<circle cx="1105.29" cy="1420.81" r="15.5" fill="#fff" stroke="#bbbbbb" stroke-width="0.8"/>
<circle cx="1164.83" cy="1420.81" r="15.6" fill="#ae2117"/>
<circle cx="1224.37" cy="1420.81" r="15.5" fill="#fff" stroke="#bbbbbb" stroke-width="0.8"/>
<circle cx="1283.91" cy="1420.81" r="15.5" fill="#fff" stroke="#bbbbbb" stroke-width="0.8"/>
<circle cx="1343.45" cy="1420.81" r="15.5" fill="#fff" stroke="#bbbbbb" stroke-width="0.8"/>
<circle cx="1402.99" cy="1420.81" r="15.5" fill="#fff" stroke="#bbbbbb" stroke-width="0.8"/>
<circle cx="1463.60" cy="1420.81" r="15.5" fill="#fff" stroke="#bbbbbb" stroke-width="0.8"/>
<circle cx="1524.10" cy="1420.81" r="15.5" fill="#fff" stroke="#bbbbbb" stroke-width="0.8"/>
<circle cx="450.35" cy="1460.69" r="15.6" fill="#ec6b6c"/>
<circle cx="509.89" cy="1460.69" r="15.6" fill="#e8434a"/>
<circle cx="569.43" cy="1460.69" r="15.6" fill="#ee7230"/>
<circle cx="628.97" cy="1460.69" r="15.6" fill="#f49723"/>
<circle cx="688.51" cy="1460.69" r="15.6" fill="#bc3f18"/>
<circle cx="748.05" cy="1460.69" r="15.5" fill="#fff" stroke="#bbbbbb" stroke-width="0.8"/>
<circle cx="807.59" cy="1460.69" r="15.5" fill="#fff" stroke="#bbbbbb" stroke-width="0.8"/>
<circle cx="867.13" cy="1460.69" r="15.5" fill="#fff" stroke="#bbbbbb" stroke-width="0.8"/>
<circle cx="926.67" cy="1460.69" r="15.5" fill="#fff" stroke="#bbbbbb" stroke-width="0.8"/>
<circle cx="986.21" cy="1460.69" r="15.5" fill="#fff" stroke="#bbbbbb" stroke-width="0.8"/>
<circle cx="1045.75" cy="1460.69" r="15.5" fill="#fff" stroke="#bbbbbb" stroke-width="0.8"/>
<circle cx="1105.29" cy="1463.59" r="15.5" fill="#fff" stroke="#bbbbbb" stroke-width="0.8"/>
<circle cx="1164.83" cy="1463.59" r="15.5" fill="#fff" stroke="#bbbbbb" stroke-width="0.8"/>
<circle cx="1224.37" cy="1463.59" r="15.5" fill="#fff" stroke="#bbbbbb" stroke-width="0.8"/>
<circle cx="1283.91" cy="1463.59" r="15.5" fill="#fff" stroke="#bbbbbb" stroke-width="0.8"/>
<circle cx="1343.45" cy="1463.59" r="15.5" fill="#fff" stroke="#bbbbbb" stroke-width="0.8"/>
<circle cx="1402.99" cy="1463.59" r="15.5" fill="#fff" stroke="#bbbbbb" stroke-width="0.8"/>
<circle cx="1463.60" cy="1463.59" r="15.5" fill="#fff" stroke="#bbbbbb" stroke-width="0.8"/>
<circle cx="1524.10" cy="1463.59" r="15.5" fill="#fff" stroke="#bbbbbb" stroke-width="0.8"/>
<circle cx="450.35" cy="1500.58" r="15.6" fill="#ec6b6c"/>
<circle cx="509.89" cy="1500.58" r="15.5" fill="#fff" stroke="#bbbbbb" stroke-width="0.8"/>
<circle cx="569.43" cy="1500.58" r="15.6" fill="#ee7230"/>
<circle cx="628.97" cy="1500.58" r="15.5" fill="#fff" stroke="#bbbbbb" stroke-width="0.8"/>
<circle cx="688.51" cy="1500.58" r="15.6" fill="#bc3f18"/>
<circle cx="748.05" cy="1500.58" r="15.6" fill="#f9c54d"/>
<circle cx="807.59" cy="1500.58" r="15.5" fill="#fff" stroke="#bbbbbb" stroke-width="0.8"/>
<circle cx="867.13" cy="1500.58" r="15.5" fill="#fff" stroke="#bbbbbb" stroke-width="0.8"/>
<circle cx="926.67" cy="1500.58" r="15.5" fill="#fff" stroke="#bbbbbb" stroke-width="0.8"/>
<circle cx="986.21" cy="1500.58" r="15.5" fill="#fff" stroke="#bbbbbb" stroke-width="0.8"/>
<circle cx="1045.75" cy="1500.58" r="15.5" fill="#fff" stroke="#bbbbbb" stroke-width="0.8"/>
<circle cx="1105.29" cy="1503.28" r="15.5" fill="#fff" stroke="#bbbbbb" stroke-width="0.8"/>
<circle cx="1164.83" cy="1503.28" r="15.5" fill="#fff" stroke="#bbbbbb" stroke-width="0.8"/>
<circle cx="1224.37" cy="1503.28" r="15.5" fill="#fff" stroke="#bbbbbb" stroke-width="0.8"/>
<circle cx="1283.91" cy="1503.28" r="15.5" fill="#fff" stroke="#bbbbbb" stroke-width="0.8"/>
<circle cx="1343.45" cy="1503.28" r="15.5" fill="#fff" stroke="#bbbbbb" stroke-width="0.8"/>
<circle cx="1402.99" cy="1503.28" r="15.5" fill="#fff" stroke="#bbbbbb" stroke-width="0.8"/>
<circle cx="1463.60" cy="1503.28" r="15.5" fill="#fff" stroke="#bbbbbb" stroke-width="0.8"/>
<circle cx="1524.10" cy="1503.28" r="15.5" fill="#fff" stroke="#bbbbbb" stroke-width="0.8"/>
<circle cx="450.35" cy="1540.47" r="15.6" fill="#ec6b6c"/>
<circle cx="509.89" cy="1540.47" r="15.5" fill="#fff" stroke="#bbbbbb" stroke-width="0.8"/>
<circle cx="569.43" cy="1540.47" r="15.6" fill="#ee7230"/>
<circle cx="628.97" cy="1540.47" r="15.5" fill="#fff" stroke="#bbbbbb" stroke-width="0.8"/>
<circle cx="688.51" cy="1540.47" r="15.5" fill="#fff" stroke="#bbbbbb" stroke-width="0.8"/>
<circle cx="748.05" cy="1540.47" r="15.6" fill="#f9c54d"/>
<circle cx="807.59" cy="1540.47" r="15.5" fill="#fff" stroke="#bbbbbb" stroke-width="0.8"/>
<circle cx="867.13" cy="1540.47" r="15.5" fill="#fff" stroke="#bbbbbb" stroke-width="0.8"/>
<circle cx="926.67" cy="1540.47" r="15.5" fill="#fff" stroke="#bbbbbb" stroke-width="0.8"/>
<circle cx="986.21" cy="1540.47" r="15.5" fill="#fff" stroke="#bbbbbb" stroke-width="0.8"/>
<circle cx="1045.75" cy="1540.47" r="15.5" fill="#fff" stroke="#bbbbbb" stroke-width="0.8"/>
<circle cx="1105.29" cy="1543.02" r="15.5" fill="#fff" stroke="#bbbbbb" stroke-width="0.8"/>
<circle cx="1164.83" cy="1543.02" r="15.5" fill="#fff" stroke="#bbbbbb" stroke-width="0.8"/>
<circle cx="1224.37" cy="1543.02" r="15.5" fill="#fff" stroke="#bbbbbb" stroke-width="0.8"/>
<circle cx="1283.91" cy="1543.02" r="15.5" fill="#fff" stroke="#bbbbbb" stroke-width="0.8"/>
<circle cx="1343.45" cy="1543.02" r="15.5" fill="#fff" stroke="#bbbbbb" stroke-width="0.8"/>
<circle cx="1402.99" cy="1543.02" r="15.5" fill="#fff" stroke="#bbbbbb" stroke-width="0.8"/>
<circle cx="1463.60" cy="1543.02" r="15.5" fill="#fff" stroke="#bbbbbb" stroke-width="0.8"/>
<circle cx="1524.10" cy="1543.02" r="15.5" fill="#fff" stroke="#bbbbbb" stroke-width="0.8"/>
<circle cx="450.35" cy="1580.35" r="15.6" fill="#ec6b6c"/>
<circle cx="509.89" cy="1580.35" r="15.6" fill="#e8434a"/>
<circle cx="569.43" cy="1580.35" r="15.6" fill="#ee7230"/>
<circle cx="628.97" cy="1580.35" r="15.6" fill="#f49723"/>
<circle cx="688.51" cy="1580.35" r="15.6" fill="#bc3f18"/>
<circle cx="748.05" cy="1580.35" r="15.6" fill="#f9c54d"/>
<circle cx="807.59" cy="1580.35" r="15.5" fill="#fff" stroke="#bbbbbb" stroke-width="0.8"/>
<circle cx="867.13" cy="1580.35" r="15.5" fill="#fff" stroke="#bbbbbb" stroke-width="0.8"/>
<circle cx="926.67" cy="1580.35" r="15.5" fill="#fff" stroke="#bbbbbb" stroke-width="0.8"/>
<circle cx="986.21" cy="1580.35" r="15.5" fill="#fff" stroke="#bbbbbb" stroke-width="0.8"/>
<circle cx="1045.75" cy="1580.35" r="15.5" fill="#fff" stroke="#bbbbbb" stroke-width="0.8"/>
<circle cx="1105.29" cy="1582.75" r="15.5" fill="#fff" stroke="#bbbbbb" stroke-width="0.8"/>
<circle cx="1164.83" cy="1582.75" r="15.5" fill="#fff" stroke="#bbbbbb" stroke-width="0.8"/>
<circle cx="1224.37" cy="1582.75" r="15.5" fill="#fff" stroke="#bbbbbb" stroke-width="0.8"/>
<circle cx="1283.91" cy="1582.75" r="15.5" fill="#fff" stroke="#bbbbbb" stroke-width="0.8"/>
<circle cx="1343.45" cy="1582.75" r="15.5" fill="#fff" stroke="#bbbbbb" stroke-width="0.8"/>
<circle cx="1402.99" cy="1582.75" r="15.5" fill="#fff" stroke="#bbbbbb" stroke-width="0.8"/>
<circle cx="1463.60" cy="1582.75" r="15.5" fill="#fff" stroke="#bbbbbb" stroke-width="0.8"/>
<circle cx="1524.10" cy="1582.75" r="15.5" fill="#fff" stroke="#bbbbbb" stroke-width="0.8"/>
<circle cx="450.35" cy="1620.24" r="15.6" fill="#ec6b6c"/>
<circle cx="509.89" cy="1620.24" r="15.6" fill="#e8434a"/>
<circle cx="569.43" cy="1620.24" r="15.6" fill="#ee7230"/>
<circle cx="628.97" cy="1620.24" r="15.6" fill="#f49723"/>
<circle cx="688.51" cy="1620.24" r="15.6" fill="#bc3f18"/>
<circle cx="748.05" cy="1620.24" r="15.5" fill="#fff" stroke="#bbbbbb" stroke-width="0.8"/>
<circle cx="807.59" cy="1620.24" r="15.5" fill="#fff" stroke="#bbbbbb" stroke-width="0.8"/>
<circle cx="867.13" cy="1620.24" r="15.5" fill="#fff" stroke="#bbbbbb" stroke-width="0.8"/>
<circle cx="926.67" cy="1620.24" r="15.5" fill="#fff" stroke="#bbbbbb" stroke-width="0.8"/>
<circle cx="986.21" cy="1620.24" r="15.5" fill="#fff" stroke="#bbbbbb" stroke-width="0.8"/>
<circle cx="1045.75" cy="1620.24" r="15.5" fill="#fff" stroke="#bbbbbb" stroke-width="0.8"/>
<circle cx="1105.29" cy="1622.39" r="15.5" fill="#fff" stroke="#bbbbbb" stroke-width="0.8"/>
<circle cx="1164.83" cy="1622.39" r="15.5" fill="#fff" stroke="#bbbbbb" stroke-width="0.8"/>
<circle cx="1224.37" cy="1622.39" r="15.5" fill="#fff" stroke="#bbbbbb" stroke-width="0.8"/>
<circle cx="1283.91" cy="1622.39" r="15.5" fill="#fff" stroke="#bbbbbb" stroke-width="0.8"/>
<circle cx="1343.45" cy="1622.39" r="15.5" fill="#fff" stroke="#bbbbbb" stroke-width="0.8"/>
<circle cx="1402.99" cy="1622.39" r="15.5" fill="#fff" stroke="#bbbbbb" stroke-width="0.8"/>
<circle cx="1463.60" cy="1622.39" r="15.5" fill="#fff" stroke="#bbbbbb" stroke-width="0.8"/>
<circle cx="1524.10" cy="1622.39" r="15.5" fill="#fff" stroke="#bbbbbb" stroke-width="0.8"/>
<circle cx="450.35" cy="1660.13" r="15.6" fill="#ec6b6c"/>
<circle cx="509.89" cy="1660.13" r="15.6" fill="#e8434a"/>
<circle cx="569.43" cy="1660.13" r="15.5" fill="#fff" stroke="#bbbbbb" stroke-width="0.8"/>
<circle cx="628.97" cy="1660.13" r="15.5" fill="#fff" stroke="#bbbbbb" stroke-width="0.8"/>
<circle cx="688.51" cy="1660.13" r="15.5" fill="#fff" stroke="#bbbbbb" stroke-width="0.8"/>
<circle cx="748.05" cy="1660.13" r="15.5" fill="#fff" stroke="#bbbbbb" stroke-width="0.8"/>
<circle cx="807.59" cy="1660.13" r="15.5" fill="#fff" stroke="#bbbbbb" stroke-width="0.8"/>
<circle cx="867.13" cy="1660.13" r="15.5" fill="#fff" stroke="#bbbbbb" stroke-width="0.8"/>
<circle cx="926.67" cy="1660.13" r="15.5" fill="#fff" stroke="#bbbbbb" stroke-width="0.8"/>
<circle cx="986.21" cy="1660.13" r="15.5" fill="#fff" stroke="#bbbbbb" stroke-width="0.8"/>
<circle cx="1045.75" cy="1660.13" r="15.5" fill="#fff" stroke="#bbbbbb" stroke-width="0.8"/>
<circle cx="1105.29" cy="1662.28" r="15.5" fill="#fff" stroke="#bbbbbb" stroke-width="0.8"/>
<circle cx="1164.83" cy="1662.28" r="15.5" fill="#fff" stroke="#bbbbbb" stroke-width="0.8"/>
<circle cx="1224.37" cy="1662.28" r="15.5" fill="#fff" stroke="#bbbbbb" stroke-width="0.8"/>
<circle cx="1283.91" cy="1662.28" r="15.5" fill="#fff" stroke="#bbbbbb" stroke-width="0.8"/>
<circle cx="1343.45" cy="1662.28" r="15.5" fill="#fff" stroke="#bbbbbb" stroke-width="0.8"/>
<circle cx="1402.99" cy="1662.28" r="15.5" fill="#fff" stroke="#bbbbbb" stroke-width="0.8"/>
<circle cx="1463.60" cy="1662.28" r="15.5" fill="#fff" stroke="#bbbbbb" stroke-width="0.8"/>
<circle cx="1524.10" cy="1662.28" r="15.5" fill="#fff" stroke="#bbbbbb" stroke-width="0.8"/>
<circle cx="450.35" cy="1700.01" r="15.6" fill="#ec6b6c"/>
<circle cx="509.89" cy="1700.01" r="15.6" fill="#e8434a"/>
<circle cx="569.43" cy="1700.01" r="15.6" fill="#ee7230"/>
<circle cx="628.97" cy="1700.01" r="15.5" fill="#fff" stroke="#bbbbbb" stroke-width="0.8"/>
<circle cx="688.51" cy="1700.01" r="15.6" fill="#bc3f18"/>
<circle cx="748.05" cy="1700.01" r="15.6" fill="#f9c54d"/>
<circle cx="807.59" cy="1700.01" r="15.5" fill="#fff" stroke="#bbbbbb" stroke-width="0.8"/>
<circle cx="867.13" cy="1700.01" r="15.5" fill="#fff" stroke="#bbbbbb" stroke-width="0.8"/>
<circle cx="926.67" cy="1700.01" r="15.5" fill="#fff" stroke="#bbbbbb" stroke-width="0.8"/>
<circle cx="986.21" cy="1700.01" r="15.5" fill="#fff" stroke="#bbbbbb" stroke-width="0.8"/>
<circle cx="1045.75" cy="1700.01" r="15.5" fill="#fff" stroke="#bbbbbb" stroke-width="0.8"/>
<circle cx="1105.29" cy="1702.16" r="15.5" fill="#fff" stroke="#bbbbbb" stroke-width="0.8"/>
<circle cx="1164.83" cy="1702.16" r="15.5" fill="#fff" stroke="#bbbbbb" stroke-width="0.8"/>
<circle cx="1224.37" cy="1702.16" r="15.5" fill="#fff" stroke="#bbbbbb" stroke-width="0.8"/>
<circle cx="1283.91" cy="1702.16" r="15.5" fill="#fff" stroke="#bbbbbb" stroke-width="0.8"/>
<circle cx="1343.45" cy="1702.16" r="15.5" fill="#fff" stroke="#bbbbbb" stroke-width="0.8"/>
<circle cx="1402.99" cy="1702.16" r="15.5" fill="#fff" stroke="#bbbbbb" stroke-width="0.8"/>
<circle cx="1463.60" cy="1702.16" r="15.5" fill="#fff" stroke="#bbbbbb" stroke-width="0.8"/>
<circle cx="1524.10" cy="1702.16" r="15.5" fill="#fff" stroke="#bbbbbb" stroke-width="0.8"/>
<circle cx="450.35" cy="1739.90" r="15.6" fill="#ec6b6c"/>
<circle cx="509.89" cy="1739.90" r="15.6" fill="#e8434a"/>
<circle cx="569.43" cy="1739.90" r="15.6" fill="#ee7230"/>
<circle cx="628.97" cy="1739.90" r="15.6" fill="#f49723"/>
<circle cx="688.51" cy="1739.90" r="15.6" fill="#bc3f18"/>
<circle cx="748.05" cy="1739.90" r="15.6" fill="#f9c54d"/>
<circle cx="807.59" cy="1739.90" r="15.6" fill="#7c8081"/>
<circle cx="867.13" cy="1739.90" r="15.6" fill="#9e85be"/>
<circle cx="926.67" cy="1739.90" r="15.5" fill="#fff" stroke="#bbbbbb" stroke-width="0.8"/>
<circle cx="986.21" cy="1739.90" r="15.6" fill="#90be6d"/>
<circle cx="1045.75" cy="1739.90" r="15.5" fill="#fff" stroke="#bbbbbb" stroke-width="0.8"/>
<circle cx="1105.29" cy="1742.05" r="15.5" fill="#fff" stroke="#bbbbbb" stroke-width="0.8"/>
<circle cx="1164.83" cy="1742.05" r="15.5" fill="#fff" stroke="#bbbbbb" stroke-width="0.8"/>
<circle cx="1224.37" cy="1742.05" r="15.5" fill="#fff" stroke="#bbbbbb" stroke-width="0.8"/>
<circle cx="1283.91" cy="1742.05" r="15.5" fill="#fff" stroke="#bbbbbb" stroke-width="0.8"/>
<circle cx="1343.45" cy="1742.05" r="15.5" fill="#fff" stroke="#bbbbbb" stroke-width="0.8"/>
<circle cx="1402.99" cy="1742.05" r="15.5" fill="#fff" stroke="#bbbbbb" stroke-width="0.8"/>
<circle cx="1463.60" cy="1742.05" r="15.5" fill="#fff" stroke="#bbbbbb" stroke-width="0.8"/>
<circle cx="1524.10" cy="1742.05" r="15.5" fill="#fff" stroke="#bbbbbb" stroke-width="0.8"/>
<circle cx="450.35" cy="1779.79" r="15.6" fill="#ec6b6c"/>
<circle cx="509.89" cy="1779.79" r="15.6" fill="#e8434a"/>
<circle cx="569.43" cy="1779.79" r="15.6" fill="#ee7230"/>
<circle cx="628.97" cy="1779.79" r="15.6" fill="#f49723"/>
<circle cx="688.51" cy="1779.79" r="15.6" fill="#bc3f18"/>
<circle cx="748.05" cy="1779.79" r="15.6" fill="#f9c54d"/>
<circle cx="807.59" cy="1779.79" r="15.5" fill="#fff" stroke="#bbbbbb" stroke-width="0.8"/>
<circle cx="867.13" cy="1779.79" r="15.5" fill="#fff" stroke="#bbbbbb" stroke-width="0.8"/>
<circle cx="926.67" cy="1779.79" r="15.6" fill="#5d548e"/>
<circle cx="986.21" cy="1779.79" r="15.5" fill="#fff" stroke="#bbbbbb" stroke-width="0.8"/>
<circle cx="1045.75" cy="1779.79" r="15.5" fill="#fff" stroke="#bbbbbb" stroke-width="0.8"/>
<circle cx="1105.29" cy="1781.94" r="15.5" fill="#fff" stroke="#bbbbbb" stroke-width="0.8"/>
<circle cx="1164.83" cy="1781.94" r="15.5" fill="#fff" stroke="#bbbbbb" stroke-width="0.8"/>
<circle cx="1224.37" cy="1781.94" r="15.5" fill="#fff" stroke="#bbbbbb" stroke-width="0.8"/>
<circle cx="1283.91" cy="1781.94" r="15.5" fill="#fff" stroke="#bbbbbb" stroke-width="0.8"/>
<circle cx="1343.45" cy="1781.94" r="15.5" fill="#fff" stroke="#bbbbbb" stroke-width="0.8"/>
<circle cx="1402.99" cy="1781.94" r="15.5" fill="#fff" stroke="#bbbbbb" stroke-width="0.8"/>
<circle cx="1463.60" cy="1781.94" r="15.5" fill="#fff" stroke="#bbbbbb" stroke-width="0.8"/>
<circle cx="1524.10" cy="1781.94" r="15.5" fill="#fff" stroke="#bbbbbb" stroke-width="0.8"/>
<circle cx="450.35" cy="1819.67" r="15.6" fill="#ec6b6c"/>
<circle cx="509.89" cy="1819.67" r="15.6" fill="#e8434a"/>
<circle cx="569.43" cy="1819.67" r="15.6" fill="#ee7230"/>
<circle cx="628.97" cy="1819.67" r="15.5" fill="#fff" stroke="#bbbbbb" stroke-width="0.8"/>
<circle cx="688.51" cy="1819.67" r="15.5" fill="#fff" stroke="#bbbbbb" stroke-width="0.8"/>
<circle cx="748.05" cy="1819.67" r="15.5" fill="#fff" stroke="#bbbbbb" stroke-width="0.8"/>
<circle cx="807.59" cy="1819.67" r="15.5" fill="#fff" stroke="#bbbbbb" stroke-width="0.8"/>
<circle cx="867.13" cy="1819.67" r="15.5" fill="#fff" stroke="#bbbbbb" stroke-width="0.8"/>
<circle cx="926.67" cy="1819.67" r="15.5" fill="#fff" stroke="#bbbbbb" stroke-width="0.8"/>
<circle cx="986.21" cy="1819.67" r="15.5" fill="#fff" stroke="#bbbbbb" stroke-width="0.8"/>
<circle cx="1045.75" cy="1819.67" r="15.5" fill="#fff" stroke="#bbbbbb" stroke-width="0.8"/>
<circle cx="1105.29" cy="1821.83" r="15.5" fill="#fff" stroke="#bbbbbb" stroke-width="0.8"/>
<circle cx="1164.83" cy="1821.83" r="15.5" fill="#fff" stroke="#bbbbbb" stroke-width="0.8"/>
<circle cx="1224.37" cy="1821.83" r="15.5" fill="#fff" stroke="#bbbbbb" stroke-width="0.8"/>
<circle cx="1283.91" cy="1821.83" r="15.5" fill="#fff" stroke="#bbbbbb" stroke-width="0.8"/>
<circle cx="1343.45" cy="1821.83" r="15.5" fill="#fff" stroke="#bbbbbb" stroke-width="0.8"/>
<circle cx="1402.99" cy="1821.83" r="15.5" fill="#fff" stroke="#bbbbbb" stroke-width="0.8"/>
<circle cx="1463.60" cy="1821.83" r="15.5" fill="#fff" stroke="#bbbbbb" stroke-width="0.8"/>
<circle cx="1524.10" cy="1821.83" r="15.5" fill="#fff" stroke="#bbbbbb" stroke-width="0.8"/>
<circle cx="450.35" cy="1859.56" r="15.6" fill="#ec6b6c"/>
<circle cx="509.89" cy="1859.56" r="15.6" fill="#e8434a"/>
<circle cx="569.43" cy="1859.56" r="15.6" fill="#ee7230"/>
<circle cx="628.97" cy="1859.56" r="15.6" fill="#f49723"/>
<circle cx="688.51" cy="1859.56" r="15.5" fill="#fff" stroke="#bbbbbb" stroke-width="0.8"/>
<circle cx="748.05" cy="1859.56" r="15.5" fill="#fff" stroke="#bbbbbb" stroke-width="0.8"/>
<circle cx="807.59" cy="1859.56" r="15.5" fill="#fff" stroke="#bbbbbb" stroke-width="0.8"/>
<circle cx="867.13" cy="1859.56" r="15.5" fill="#fff" stroke="#bbbbbb" stroke-width="0.8"/>
<circle cx="926.67" cy="1859.56" r="15.5" fill="#fff" stroke="#bbbbbb" stroke-width="0.8"/>
<circle cx="986.21" cy="1859.56" r="15.5" fill="#fff" stroke="#bbbbbb" stroke-width="0.8"/>
<circle cx="1045.75" cy="1859.56" r="15.5" fill="#fff" stroke="#bbbbbb" stroke-width="0.8"/>
<circle cx="1105.29" cy="1861.71" r="15.5" fill="#fff" stroke="#bbbbbb" stroke-width="0.8"/>
<circle cx="1164.83" cy="1861.71" r="15.5" fill="#fff" stroke="#bbbbbb" stroke-width="0.8"/>
<circle cx="1224.37" cy="1861.71" r="15.5" fill="#fff" stroke="#bbbbbb" stroke-width="0.8"/>
<circle cx="1283.91" cy="1861.71" r="15.5" fill="#fff" stroke="#bbbbbb" stroke-width="0.8"/>
<circle cx="1343.45" cy="1861.71" r="15.5" fill="#fff" stroke="#bbbbbb" stroke-width="0.8"/>
<circle cx="1402.99" cy="1861.71" r="15.5" fill="#fff" stroke="#bbbbbb" stroke-width="0.8"/>
<circle cx="1463.60" cy="1861.71" r="15.5" fill="#fff" stroke="#bbbbbb" stroke-width="0.8"/>
<circle cx="1524.10" cy="1861.71" r="15.5" fill="#fff" stroke="#bbbbbb" stroke-width="0.8"/>
<circle cx="450.35" cy="1899.45" r="15.6" fill="#ec6b6c"/>
<circle cx="509.89" cy="1899.45" r="15.6" fill="#e8434a"/>
<circle cx="569.43" cy="1899.45" r="15.6" fill="#ee7230"/>
<circle cx="628.97" cy="1899.45" r="15.5" fill="#fff" stroke="#bbbbbb" stroke-width="0.8"/>
<circle cx="688.51" cy="1899.45" r="15.5" fill="#fff" stroke="#bbbbbb" stroke-width="0.8"/>
<circle cx="748.05" cy="1899.45" r="15.6" fill="#f9c54d"/>
<circle cx="807.59" cy="1899.45" r="15.5" fill="#fff" stroke="#bbbbbb" stroke-width="0.8"/>
<circle cx="867.13" cy="1899.45" r="15.5" fill="#fff" stroke="#bbbbbb" stroke-width="0.8"/>
<circle cx="926.67" cy="1899.45" r="15.5" fill="#fff" stroke="#bbbbbb" stroke-width="0.8"/>
<circle cx="986.21" cy="1899.45" r="15.5" fill="#fff" stroke="#bbbbbb" stroke-width="0.8"/>
<circle cx="1045.75" cy="1899.45" r="15.5" fill="#fff" stroke="#bbbbbb" stroke-width="0.8"/>
<circle cx="1105.29" cy="1901.60" r="15.5" fill="#fff" stroke="#bbbbbb" stroke-width="0.8"/>
<circle cx="1164.83" cy="1901.60" r="15.5" fill="#fff" stroke="#bbbbbb" stroke-width="0.8"/>
<circle cx="1224.37" cy="1901.60" r="15.5" fill="#fff" stroke="#bbbbbb" stroke-width="0.8"/>
<circle cx="1283.91" cy="1901.60" r="15.5" fill="#fff" stroke="#bbbbbb" stroke-width="0.8"/>
<circle cx="1343.45" cy="1901.60" r="15.5" fill="#fff" stroke="#bbbbbb" stroke-width="0.8"/>
<circle cx="1402.99" cy="1901.60" r="15.5" fill="#fff" stroke="#bbbbbb" stroke-width="0.8"/>
<circle cx="1463.60" cy="1901.60" r="15.5" fill="#fff" stroke="#bbbbbb" stroke-width="0.8"/>
<circle cx="1524.10" cy="1901.60" r="15.5" fill="#fff" stroke="#bbbbbb" stroke-width="0.8"/>
<circle cx="450.35" cy="1939.34" r="15.6" fill="#ec6b6c"/>
<circle cx="509.89" cy="1939.34" r="15.6" fill="#e8434a"/>
<circle cx="569.43" cy="1939.34" r="15.6" fill="#ee7230"/>
<circle cx="628.97" cy="1939.34" r="15.6" fill="#f49723"/>
<circle cx="688.51" cy="1939.34" r="15.6" fill="#bc3f18"/>
<circle cx="748.05" cy="1939.34" r="15.6" fill="#f9c54d"/>
<circle cx="807.59" cy="1939.34" r="15.5" fill="#fff" stroke="#bbbbbb" stroke-width="0.8"/>
<circle cx="867.13" cy="1939.34" r="15.5" fill="#fff" stroke="#bbbbbb" stroke-width="0.8"/>
<circle cx="926.67" cy="1939.34" r="15.5" fill="#fff" stroke="#bbbbbb" stroke-width="0.8"/>
<circle cx="986.21" cy="1939.34" r="15.5" fill="#fff" stroke="#bbbbbb" stroke-width="0.8"/>
<circle cx="1045.75" cy="1939.34" r="15.5" fill="#fff" stroke="#bbbbbb" stroke-width="0.8"/>
<circle cx="1105.29" cy="1941.49" r="15.5" fill="#fff" stroke="#bbbbbb" stroke-width="0.8"/>
<circle cx="1164.83" cy="1941.49" r="15.5" fill="#fff" stroke="#bbbbbb" stroke-width="0.8"/>
<circle cx="1224.37" cy="1941.49" r="15.5" fill="#fff" stroke="#bbbbbb" stroke-width="0.8"/>
<circle cx="1283.91" cy="1941.49" r="15.5" fill="#fff" stroke="#bbbbbb" stroke-width="0.8"/>
<circle cx="1343.45" cy="1941.49" r="15.5" fill="#fff" stroke="#bbbbbb" stroke-width="0.8"/>
<circle cx="1402.99" cy="1941.49" r="15.5" fill="#fff" stroke="#bbbbbb" stroke-width="0.8"/>
<circle cx="1463.60" cy="1941.49" r="15.5" fill="#fff" stroke="#bbbbbb" stroke-width="0.8"/>
<circle cx="1524.10" cy="1941.49" r="15.5" fill="#fff" stroke="#bbbbbb" stroke-width="0.8"/>
<circle cx="450.35" cy="1979.22" r="15.6" fill="#ec6b6c"/>
<circle cx="509.89" cy="1979.22" r="15.6" fill="#e8434a"/>
<circle cx="569.43" cy="1979.22" r="15.6" fill="#ee7230"/>
<circle cx="628.97" cy="1979.22" r="15.6" fill="#f49723"/>
<circle cx="688.51" cy="1979.22" r="15.6" fill="#bc3f18"/>
<circle cx="748.05" cy="1979.22" r="15.6" fill="#f9c54d"/>
<circle cx="807.59" cy="1979.22" r="15.5" fill="#fff" stroke="#bbbbbb" stroke-width="0.8"/>
<circle cx="867.13" cy="1979.22" r="15.5" fill="#fff" stroke="#bbbbbb" stroke-width="0.8"/>
<circle cx="926.67" cy="1979.22" r="15.5" fill="#fff" stroke="#bbbbbb" stroke-width="0.8"/>
<circle cx="986.21" cy="1979.22" r="15.5" fill="#fff" stroke="#bbbbbb" stroke-width="0.8"/>
<circle cx="1045.75" cy="1979.22" r="15.5" fill="#fff" stroke="#bbbbbb" stroke-width="0.8"/>
<circle cx="1105.29" cy="1981.37" r="15.5" fill="#fff" stroke="#bbbbbb" stroke-width="0.8"/>
<circle cx="1164.83" cy="1981.37" r="15.5" fill="#fff" stroke="#bbbbbb" stroke-width="0.8"/>
<circle cx="1224.37" cy="1981.37" r="15.5" fill="#fff" stroke="#bbbbbb" stroke-width="0.8"/>
<circle cx="1283.91" cy="1981.37" r="15.5" fill="#fff" stroke="#bbbbbb" stroke-width="0.8"/>
<circle cx="1343.45" cy="1981.37" r="15.5" fill="#fff" stroke="#bbbbbb" stroke-width="0.8"/>
<circle cx="1402.99" cy="1981.37" r="15.5" fill="#fff" stroke="#bbbbbb" stroke-width="0.8"/>
<circle cx="1463.60" cy="1981.37" r="15.5" fill="#fff" stroke="#bbbbbb" stroke-width="0.8"/>
<circle cx="1524.10" cy="1981.37" r="15.5" fill="#fff" stroke="#bbbbbb" stroke-width="0.8"/>
<circle cx="450.35" cy="2019.11" r="15.6" fill="#ec6b6c"/>
<circle cx="509.89" cy="2019.11" r="15.6" fill="#e8434a"/>
<circle cx="569.43" cy="2019.11" r="15.6" fill="#ee7230"/>
<circle cx="628.97" cy="2019.11" r="15.6" fill="#f49723"/>
<circle cx="688.51" cy="2019.11" r="15.6" fill="#bc3f18"/>
<circle cx="748.05" cy="2019.11" r="15.5" fill="#fff" stroke="#bbbbbb" stroke-width="0.8"/>
<circle cx="807.59" cy="2019.11" r="15.5" fill="#fff" stroke="#bbbbbb" stroke-width="0.8"/>
<circle cx="867.13" cy="2019.11" r="15.5" fill="#fff" stroke="#bbbbbb" stroke-width="0.8"/>
<circle cx="926.67" cy="2019.11" r="15.5" fill="#fff" stroke="#bbbbbb" stroke-width="0.8"/>
<circle cx="986.21" cy="2019.11" r="15.6" fill="#90be6d"/>
<circle cx="1045.75" cy="2019.11" r="15.5" fill="#fff" stroke="#bbbbbb" stroke-width="0.8"/>
<circle cx="1105.29" cy="2021.26" r="15.5" fill="#fff" stroke="#bbbbbb" stroke-width="0.8"/>
<circle cx="1164.83" cy="2021.26" r="15.5" fill="#fff" stroke="#bbbbbb" stroke-width="0.8"/>
<circle cx="1224.37" cy="2021.26" r="15.5" fill="#fff" stroke="#bbbbbb" stroke-width="0.8"/>
<circle cx="1283.91" cy="2021.26" r="15.5" fill="#fff" stroke="#bbbbbb" stroke-width="0.8"/>
<circle cx="1343.45" cy="2021.26" r="15.5" fill="#fff" stroke="#bbbbbb" stroke-width="0.8"/>
<circle cx="1402.99" cy="2021.26" r="15.5" fill="#fff" stroke="#bbbbbb" stroke-width="0.8"/>
<circle cx="1463.60" cy="2021.26" r="15.5" fill="#fff" stroke="#bbbbbb" stroke-width="0.8"/>
<circle cx="1524.10" cy="2021.26" r="15.5" fill="#fff" stroke="#bbbbbb" stroke-width="0.8"/>
<circle cx="450.35" cy="2059.00" r="15.6" fill="#ec6b6c"/>
<circle cx="509.89" cy="2059.00" r="15.6" fill="#e8434a"/>
<circle cx="569.43" cy="2059.00" r="15.6" fill="#ee7230"/>
<circle cx="628.97" cy="2059.00" r="15.6" fill="#f49723"/>
<circle cx="688.51" cy="2059.00" r="15.6" fill="#bc3f18"/>
<circle cx="748.05" cy="2059.00" r="15.6" fill="#f9c54d"/>
<circle cx="807.59" cy="2059.00" r="15.5" fill="#fff" stroke="#bbbbbb" stroke-width="0.8"/>
<circle cx="867.13" cy="2059.00" r="15.5" fill="#fff" stroke="#bbbbbb" stroke-width="0.8"/>
<circle cx="926.67" cy="2059.00" r="15.5" fill="#fff" stroke="#bbbbbb" stroke-width="0.8"/>
<circle cx="986.21" cy="2059.00" r="15.5" fill="#fff" stroke="#bbbbbb" stroke-width="0.8"/>
<circle cx="1045.75" cy="2059.00" r="15.5" fill="#fff" stroke="#bbbbbb" stroke-width="0.8"/>
<circle cx="1105.29" cy="2061.15" r="15.5" fill="#fff" stroke="#bbbbbb" stroke-width="0.8"/>
<circle cx="1164.83" cy="2061.15" r="15.5" fill="#fff" stroke="#bbbbbb" stroke-width="0.8"/>
<circle cx="1224.37" cy="2061.15" r="15.5" fill="#fff" stroke="#bbbbbb" stroke-width="0.8"/>
<circle cx="1283.91" cy="2061.15" r="15.5" fill="#fff" stroke="#bbbbbb" stroke-width="0.8"/>
<circle cx="1343.45" cy="2061.15" r="15.5" fill="#fff" stroke="#bbbbbb" stroke-width="0.8"/>
<circle cx="1402.99" cy="2061.15" r="15.5" fill="#fff" stroke="#bbbbbb" stroke-width="0.8"/>
<circle cx="1463.60" cy="2061.15" r="15.5" fill="#fff" stroke="#bbbbbb" stroke-width="0.8"/>
<circle cx="1524.10" cy="2061.15" r="15.5" fill="#fff" stroke="#bbbbbb" stroke-width="0.8"/>
</svg>
<div class="d" style="left:147.5px;top:77.0px;background:#ec6b6c"></div>
<div class="t" style="left:187px;top:76px;font-size:27px;letter-spacing:0.053px">Violencia sexual</div>
<div class="d" style="left:147.5px;top:118.8px;background:#e8434a"></div>
<div class="t" style="left:185px;top:113px;font-size:27px;letter-spacing:0.584px">Imprudencial o accidental</div>
<div class="d" style="left:147.5px;top:155.8px;background:#ee7230"></div>
<div class="t" style="left:186px;top:150px;font-size:27px;letter-spacing:-0.218px">Riesgo a la vida</div>
<div class="d" style="left:147.5px;top:190.7px;background:#f49723"></div>
<div class="t" style="left:185px;top:188px;font-size:27px;letter-spacing:0.549px">Inseminación artificial no consentida</div>
<div class="d" style="left:147.5px;top:230.9px;background:#bc3f18"></div>
<div class="t" style="left:186px;top:225px;font-size:27px;letter-spacing:0.545px">Malformaciones genéticas</div>
<div class="t" style="left:186px;top:262px;font-size:27px;letter-spacing:0.337px">o congénitas graves en el producto</div>
<div class="d" style="left:147.5px;top:304.9px;background:#f9c54d"></div>
<div class="t" style="left:186px;top:300px;font-size:27px;letter-spacing:-0.078px">Riesgo a la salud</div>
<div class="d" style="left:147.5px;top:342.4px;background:#7c8081"></div>
<div class="t" style="left:186px;top:338px;font-size:27px;letter-spacing:0.350px">Negación del servicio</div>
<div class="d" style="left:147.5px;top:378.4px;background:#9e85be"></div>
<div class="t" style="left:186px;top:376px;font-size:27px;letter-spacing:0.623px">Estupro</div>
<div class="d" style="left:147.5px;top:413.2px;background:#5d548e"></div>
<div class="t" style="left:186px;top:413px;font-size:27px;letter-spacing:0.489px">Transtorno ginecológico</div>
<div class="d" style="left:147.5px;top:451.8px;background:#90be6d"></div>
<div class="t" style="left:186px;top:451px;font-size:27px;letter-spacing:0.084px">Causas económicas graves</div>
<div class="d" style="left:147.5px;top:489.4px;background:#267fa3"></div>
<div class="t" style="left:186px;top:488px;font-size:27px;letter-spacing:0.519px">Negación de información</div>
<div class="d" style="left:956.1px;top:77.6px;background:#ef844c"></div>
<div class="t" style="left:997px;top:72px;font-size:27px;letter-spacing:0.413px">Abuso sexual infantil</div>
<div class="d" style="left:956.1px;top:118.9px;background:#ae2117"></div>
<div class="t" style="left:996px;top:109px;font-size:27px;letter-spacing:-0.030px">Razones médicas</div>
<div class="d" style="left:956.1px;top:155.6px;background:#d51b85"></div>
<div class="t" style="left:997px;top:146px;font-size:27px;letter-spacing:0.456px">Amenazas u ocultamiento</div>
<div class="d" style="left:956.1px;top:190.7px;background:#a9b163"></div>
<div class="t" style="left:996px;top:183px;font-size:27px;letter-spacing:0.432px">Obstaculización de servicio</div>
<div class="d" style="left:956.1px;top:231.2px;background:#f2e184"></div>
<div class="t" style="left:996px;top:221px;font-size:27px;letter-spacing:0.418px">Privación de la libertad</div>
<div class="d" style="left:956.1px;top:269.2px;background:#5a2b85"></div>
<div class="t" style="left:997px;top:258px;font-size:27px;letter-spacing:0.490px">Aborto espontáneo</div>
<div class="d" style="left:956.1px;top:305.1px;background:#a06fae"></div>
<div class="t" style="left:996px;top:296px;font-size:27px;letter-spacing:0.502px">Lenocinio</div>
<div class="d" style="left:956.1px;top:343.2px;background:#8fd1e2"></div>
<div class="t" style="left:997px;top:333px;font-size:27px;letter-spacing:0.114px">Trata de personas</div>
<div class="bar" style="left:146.8px;top:555.9px;width:106.6px;height:21.7px;background:#97cfbe"></div>
<div class="bar" style="left:955.9px;top:538.5px;width:106.6px;height:21px;background:#eaa8cc"></div>
<div class="t" style="left:181px;top:594px;font-size:27px;letter-spacing:0.387px">Interrupción legal del embarazo (ILE)</div>
<div class="t" style="left:181px;top:631px;font-size:27px;letter-spacing:0.022px">(hasta las 12.6 semanas de embarazo,</div>
<div class="t" style="left:181px;top:668px;font-size:27px;letter-spacing:0.069px">salvo Sinaloa que contempla 13.6 y</div>
<div class="t" style="left:182px;top:706px;font-size:27px;letter-spacing:0.397px">Aguascalientes que contempla 6.6)</div>
<div class="t" style="left:990px;top:575px;font-size:26.5px;letter-spacing:0.400px">La SCJN invalidó las sanciones</div>
<div class="t" style="left:991px;top:608px;font-size:26.5px;letter-spacing:0.546px">a las personas que voluntariamente</div>
<div class="t" style="left:991px;top:642px;font-size:26.5px;letter-spacing:0.565px">practiquen su aborto y a quienes</div>
<div class="t" style="left:991px;top:675px;font-size:26.5px;letter-spacing:0.474px">les asistan</div>
<div class="hl" style="left:157.9px;top:807.20px;width:234.2px;background:#97cfbe"></div>
<div class="t" style="left:188px;top:804px;font-size:26px;letter-spacing:0.581px">Aguascalientes</div>
<div class="hl" style="left:165.0px;top:847.39px;width:227.1px;background:#97cfbe"></div>
<div class="t" style="left:194px;top:844px;font-size:26px;letter-spacing:0.589px">Baja California</div>
<div class="hl" style="left:114.0px;top:886.77px;width:278.1px;background:#97cfbe"></div>
<div class="t" style="left:141px;top:883px;font-size:26px;letter-spacing:0.560px">Baja California Sur</div>
<div class="hl" style="left:217.2px;top:927.76px;width:174.9px;background:#97cfbe"></div>
<div class="t" style="left:246px;top:924px;font-size:26px;letter-spacing:0.657px">Campeche</div>
<div class="hl" style="left:252.0px;top:966.25px;width:140.1px;background:#97cfbe"></div>
<div class="t" style="left:281px;top:963px;font-size:26px;letter-spacing:0.407px">Chiapas</div>
<div class="hl" style="left:216.5px;top:1006.43px;width:175.6px;background:#eaa8cc"></div>
<div class="t" style="left:245px;top:1003px;font-size:26px;letter-spacing:0.566px">Chihuahua</div>
<div class="hl" style="left:243.0px;top:1047.62px;width:149.1px;background:#eaa8cc"></div>
<div class="t" style="left:271px;top:1044px;font-size:26px;letter-spacing:0.493px">Coahuila</div>
<div class="hl" style="left:266.0px;top:1086.11px;width:126.1px;background:#97cfbe"></div>
<div class="t" style="left:294px;top:1082px;font-size:26px;letter-spacing:0.781px">Colima</div>
<div class="hl" style="left:124.0px;top:1126.20px;width:268.1px;background:#97cfbe"></div>
<div class="t" style="left:152px;top:1122px;font-size:26px;letter-spacing:0.626px">Ciudad de México</div>
<div class="t" style="left:274px;top:1164px;font-size:26px;letter-spacing:0.779px">Durango</div>
<div class="hl" style="left:129.0px;top:1207.47px;width:263.1px;background:#97cfbe"></div>
<div class="t" style="left:156px;top:1204px;font-size:26px;letter-spacing:0.462px">Estado de México</div>
<div class="t" style="left:234px;top:1242px;font-size:26px;letter-spacing:0.774px">Guanajuato</div>
<div class="hl" style="left:239.7px;top:1286.04px;width:152.4px;background:#97cfbe"></div>
<div class="t" style="left:267px;top:1282px;font-size:26px;letter-spacing:0.987px">Guerrero</div>
<div class="hl" style="left:259.1px;top:1325.03px;width:133.0px;background:#97cfbe"></div>
<div class="t" style="left:287px;top:1321px;font-size:26px;letter-spacing:0.690px">Hidalgo</div>
<div class="hl" style="left:268.1px;top:1365.52px;width:124.0px;background:#97cfbe"></div>
<div class="t" style="left:298px;top:1362px;font-size:26px;letter-spacing:0.451px">Jalisco</div>
<div class="hl" style="left:216.1px;top:1406.21px;width:176.0px;background:#97cfbe"></div>
<div class="t" style="left:244px;top:1403px;font-size:26px;letter-spacing:0.900px">Michoacán</div>
<div class="t" style="left:281px;top:1443px;font-size:26px;letter-spacing:0.866px">Morelos</div>
<div class="hl" style="left:257.1px;top:1486.38px;width:135.0px;background:#97cfbe"></div>
<div class="t" style="left:290px;top:1483px;font-size:26px;letter-spacing:1.060px">Nayarit</div>
<div class="t" style="left:231px;top:1523px;font-size:26px;letter-spacing:0.527px">Nuevo León</div>
<div class="hl" style="left:260.3px;top:1565.25px;width:131.8px;background:#97cfbe"></div>
<div class="t" style="left:288px;top:1562px;font-size:26px;letter-spacing:0.143px">Oaxaca</div>
<div class="hl" style="left:270.1px;top:1606.64px;width:122.0px;background:#97cfbe"></div>
<div class="t" style="left:299px;top:1603px;font-size:26px;letter-spacing:-0.144px">Puebla</div>
<div class="t" style="left:252px;top:1642px;font-size:26px;letter-spacing:0.975px">Querétaro</div>
<div class="hl" style="left:178.0px;top:1685.51px;width:214.1px;background:#97cfbe"></div>
<div class="t" style="left:206px;top:1682px;font-size:26px;letter-spacing:0.626px">Quintana Roo</div>
<div class="hl" style="left:157.1px;top:1726.90px;width:235.0px;background:#97cfbe"></div>
<div class="t" style="left:185px;top:1723px;font-size:26px;letter-spacing:0.274px">San Luis Potosí</div>
<div class="hl" style="left:262.0px;top:1764.89px;width:130.1px;background:#97cfbe"></div>
<div class="t" style="left:291px;top:1761px;font-size:26px;letter-spacing:0.156px">Sinaloa</div>
<div class="t" style="left:293px;top:1802px;font-size:26px;letter-spacing:0.367px">Sonora</div>
<div class="hl" style="left:252.0px;top:1846.06px;width:140.1px;background:#97cfbe"></div>
<div class="t" style="left:279px;top:1842px;font-size:26px;letter-spacing:0.508px">Tabasco</div>
<div class="t" style="left:239px;top:1882px;font-size:26px;letter-spacing:0.565px">Tamaulipas</div>
<div class="t" style="left:279px;top:1922px;font-size:26px;letter-spacing:0.257px">Tlaxcala</div>
<div class="hl" style="left:242.0px;top:1965.92px;width:150.1px;background:#97cfbe"></div>
<div class="t" style="left:271px;top:1962px;font-size:26px;letter-spacing:0.672px">Veracruz</div>
<div class="hl" style="left:249.3px;top:2004.91px;width:142.8px;background:#97cfbe"></div>
<div class="t" style="left:281px;top:2001px;font-size:26px;letter-spacing:0.782px">Yucatán</div>
<div class="hl" style="left:225.0px;top:2045.50px;width:167.1px;background:#97cfbe"></div>
<div class="t" style="left:252px;top:2042px;font-size:26px;letter-spacing:0.600px">Zacatecas</div>
</body></html>
